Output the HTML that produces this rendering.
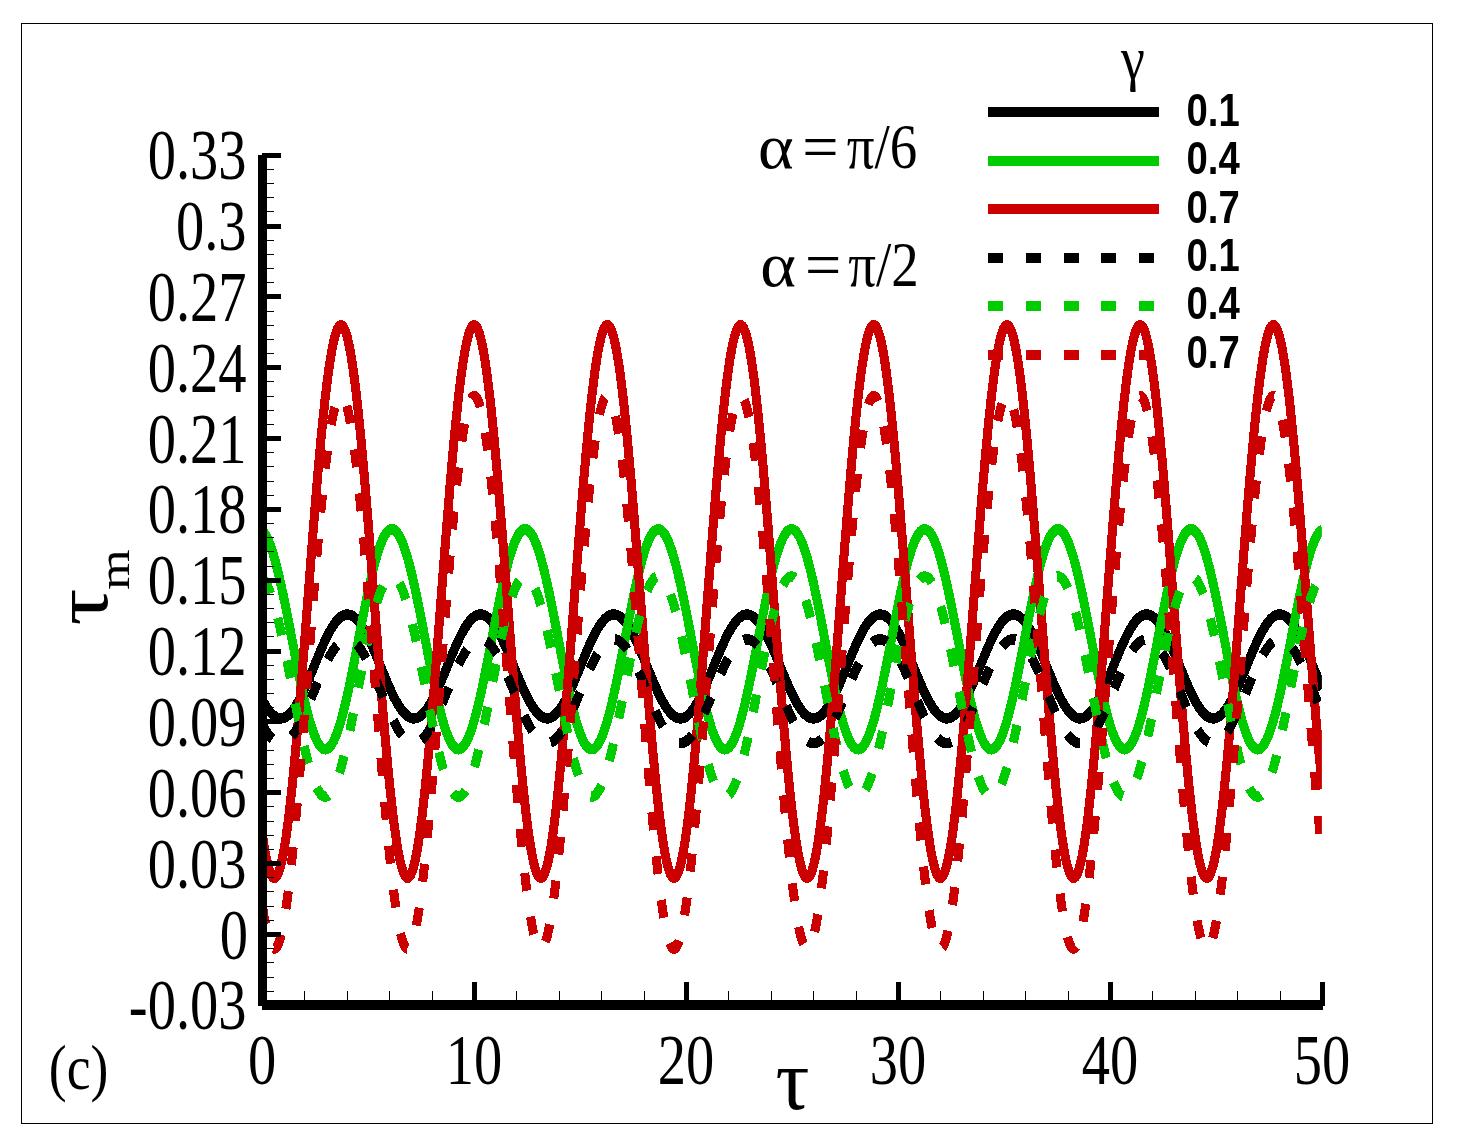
<!DOCTYPE html>
<html><head><meta charset="utf-8"><title>Figure (c)</title>
<style>html,body{margin:0;padding:0;background:#fff}svg{display:block}</style>
</head><body>
<svg width="1458" height="1146" viewBox="0 0 1458 1146">
<rect x="0" y="0" width="1458" height="1146" fill="#fff"/>
<rect x="21.5" y="23.5" width="1411" height="1100" fill="none" stroke="#000" stroke-width="1" shape-rendering="crispEdges"/>
<defs><clipPath id="clip"><rect x="301.72" y="100" width="1217.70" height="905"/></clipPath></defs>
<g transform="scale(0.87,1)" fill="none" stroke-width="10.4" stroke-linejoin="round" shape-rendering="crispEdges" clip-path="url(#clip)">
<path d="M301.72,700.35 L302.94,702.27 L304.16,704.11 L305.38,705.85 L306.60,707.50 L307.82,709.04 L309.03,710.47 L310.25,711.80 L311.47,713.01 L312.69,714.10 L313.91,715.08 L315.13,715.93 L316.34,716.66 L317.56,717.27 L318.78,717.74 L320.00,718.09 L321.22,718.31 L322.44,718.40 L323.66,718.37 L324.87,718.20 L326.09,717.90 L327.31,717.47 L328.53,716.92 L329.75,716.24 L330.97,715.43 L332.18,714.51 L333.40,713.46 L334.62,712.29 L335.84,711.01 L337.06,709.62 L338.28,708.13 L339.49,706.52 L340.71,704.82 L341.93,703.02 L343.15,701.13 L344.37,699.15 L345.59,697.09 L346.80,694.96 L348.02,692.75 L349.24,690.48 L350.46,688.15 L351.68,685.76 L352.90,683.33 L354.11,680.85 L355.33,678.34 L356.55,675.79 L357.77,673.23 L358.99,670.64 L360.21,668.05 L361.43,665.45 L362.64,662.86 L363.86,660.27 L365.08,657.70 L366.30,655.15 L367.52,652.63 L368.74,650.15 L369.95,647.70 L371.17,645.30 L372.39,642.96 L373.61,640.67 L374.83,638.45 L376.05,636.30 L377.26,634.22 L378.48,632.22 L379.70,630.31 L380.92,628.49 L382.14,626.77 L383.36,625.14 L384.57,623.62 L385.79,622.20 L387.01,620.89 L388.23,619.70 L389.45,618.63 L390.67,617.67 L391.89,616.84 L393.10,616.13 L394.32,615.55 L395.54,615.09 L396.76,614.76 L397.98,614.56 L399.20,614.49 L400.41,614.56 L401.63,614.75 L402.85,615.07 L404.07,615.51 L405.29,616.09 L406.51,616.79 L407.72,617.62 L408.94,618.56 L410.16,619.63 L411.38,620.81 L412.60,622.11 L413.82,623.52 L415.03,625.04 L416.25,626.66 L417.47,628.38 L418.69,630.19 L419.91,632.10 L421.13,634.09 L422.34,636.16 L423.56,638.31 L424.78,640.53 L426.00,642.81 L427.22,645.15 L428.44,647.55 L429.66,649.99 L430.87,652.47 L432.09,654.99 L433.31,657.54 L434.53,660.11 L435.75,662.69 L436.97,665.29 L438.18,667.89 L439.40,670.48 L440.62,673.06 L441.84,675.63 L443.06,678.17 L444.28,680.69 L445.49,683.17 L446.71,685.61 L447.93,688.00 L449.15,690.33 L450.37,692.61 L451.59,694.82 L452.80,696.96 L454.02,699.02 L455.24,701.01 L456.46,702.90 L457.68,704.71 L458.90,706.42 L460.11,708.03 L461.33,709.53 L462.55,710.93 L463.77,712.22 L464.99,713.39 L466.21,714.44 L467.43,715.38 L468.64,716.19 L469.86,716.88 L471.08,717.44 L472.30,717.88 L473.52,718.18 L474.74,718.36 L475.95,718.41 L477.17,718.32 L478.39,718.11 L479.61,717.77 L480.83,717.30 L482.05,716.70 L483.26,715.98 L484.48,715.13 L485.70,714.17 L486.92,713.08 L488.14,711.88 L489.36,710.56 L490.57,709.13 L491.79,707.60 L493.01,705.96 L494.23,704.22 L495.45,702.39 L496.67,700.47 L497.89,698.47 L499.10,696.38 L500.32,694.22 L501.54,692.00 L502.76,689.70 L503.98,687.35 L505.20,684.95 L506.41,682.50 L507.63,680.01 L508.85,677.48 L510.07,674.93 L511.29,672.36 L512.51,669.77 L513.72,667.18 L514.94,664.58 L516.16,661.99 L517.38,659.41 L518.60,656.84 L519.82,654.30 L521.03,651.79 L522.25,649.32 L523.47,646.89 L524.69,644.51 L525.91,642.18 L527.13,639.92 L528.34,637.72 L529.56,635.59 L530.78,633.54 L532.00,631.57 L533.22,629.69 L534.44,627.90 L535.66,626.21 L536.87,624.62 L538.09,623.13 L539.31,621.75 L540.53,620.48 L541.75,619.33 L542.97,618.29 L544.18,617.38 L545.40,616.59 L546.62,615.92 L547.84,615.38 L549.06,614.97 L550.28,614.68 L551.49,614.53 L552.71,614.50 L553.93,614.60 L555.15,614.84 L556.37,615.20 L557.59,615.69 L558.80,616.31 L560.02,617.05 L561.24,617.92 L562.46,618.91 L563.68,620.02 L564.90,621.24 L566.11,622.58 L567.33,624.02 L568.55,625.57 L569.77,627.23 L570.99,628.98 L572.21,630.82 L573.43,632.76 L574.64,634.78 L575.86,636.88 L577.08,639.05 L578.30,641.29 L579.52,643.59 L580.74,645.95 L581.95,648.36 L583.17,650.82 L584.39,653.32 L585.61,655.84 L586.83,658.40 L588.05,660.98 L589.26,663.56 L590.48,666.16 L591.70,668.76 L592.92,671.35 L594.14,673.93 L595.36,676.49 L596.57,679.02 L597.79,681.53 L599.01,683.99 L600.23,686.42 L601.45,688.79 L602.67,691.11 L603.89,693.36 L605.10,695.55 L606.32,697.66 L607.54,699.70 L608.76,701.65 L609.98,703.52 L611.20,705.29 L612.41,706.97 L613.63,708.54 L614.85,710.01 L616.07,711.37 L617.29,712.62 L618.51,713.76 L619.72,714.77 L620.94,715.66 L622.16,716.44 L623.38,717.08 L624.60,717.60 L625.82,717.99 L627.03,718.26 L628.25,718.39 L629.47,718.39 L630.69,718.27 L631.91,718.01 L633.13,717.63 L634.34,717.11 L635.56,716.47 L636.78,715.71 L638.00,714.82 L639.22,713.81 L640.44,712.69 L641.66,711.45 L642.87,710.09 L644.09,708.63 L645.31,707.06 L646.53,705.39 L647.75,703.62 L648.97,701.76 L650.18,699.81 L651.40,697.78 L652.62,695.67 L653.84,693.48 L655.06,691.23 L656.28,688.92 L657.49,686.55 L658.71,684.13 L659.93,681.66 L661.15,679.16 L662.37,676.63 L663.59,674.07 L664.80,671.49 L666.02,668.90 L667.24,666.30 L668.46,663.71 L669.68,661.12 L670.90,658.54 L672.11,655.98 L673.33,653.45 L674.55,650.96 L675.77,648.50 L676.99,646.08 L678.21,643.72 L679.43,641.41 L680.64,639.17 L681.86,636.99 L683.08,634.89 L684.30,632.87 L685.52,630.93 L686.74,629.08 L687.95,627.32 L689.17,625.66 L690.39,624.10 L691.61,622.65 L692.83,621.31 L694.05,620.08 L695.26,618.97 L696.48,617.97 L697.70,617.10 L698.92,616.35 L700.14,615.72 L701.36,615.23 L702.57,614.86 L703.79,614.61 L705.01,614.50 L706.23,614.52 L707.45,614.67 L708.67,614.95 L709.89,615.35 L711.10,615.89 L712.32,616.55 L713.54,617.33 L714.76,618.24 L715.98,619.27 L717.20,620.41 L718.41,621.68 L719.63,623.05 L720.85,624.53 L722.07,626.12 L723.29,627.80 L724.51,629.59 L725.72,631.46 L726.94,633.43 L728.16,635.47 L729.38,637.60 L730.60,639.79 L731.82,642.06 L733.03,644.38 L734.25,646.76 L735.47,649.18 L736.69,651.66 L737.91,654.16 L739.13,656.70 L740.34,659.26 L741.56,661.85 L742.78,664.44 L744.00,667.03 L745.22,669.63 L746.44,672.22 L747.66,674.79 L748.87,677.34 L750.09,679.87 L751.31,682.36 L752.53,684.81 L753.75,687.22 L754.97,689.57 L756.18,691.87 L757.40,694.10 L758.62,696.27 L759.84,698.36 L761.06,700.37 L762.28,702.29 L763.49,704.13 L764.71,705.87 L765.93,707.51 L767.15,709.05 L768.37,710.48 L769.59,711.81 L770.80,713.02 L772.02,714.11 L773.24,715.09 L774.46,715.94 L775.68,716.67 L776.90,717.27 L778.11,717.75 L779.33,718.10 L780.55,718.32 L781.77,718.41 L782.99,718.37 L784.21,718.20 L785.43,717.90 L786.64,717.47 L787.86,716.91 L789.08,716.23 L790.30,715.43 L791.52,714.50 L792.74,713.45 L793.95,712.28 L795.17,711.00 L796.39,709.61 L797.61,708.11 L798.83,706.51 L800.05,704.80 L801.26,703.00 L802.48,701.11 L803.70,699.14 L804.92,697.08 L806.14,694.94 L807.36,692.73 L808.57,690.46 L809.79,688.13 L811.01,685.74 L812.23,683.30 L813.45,680.83 L814.67,678.31 L815.89,675.77 L817.10,673.20 L818.32,670.62 L819.54,668.03 L820.76,665.43 L821.98,662.84 L823.20,660.25 L824.41,657.68 L825.63,655.13 L826.85,652.61 L828.07,650.12 L829.29,647.68 L830.51,645.28 L831.72,642.94 L832.94,640.65 L834.16,638.43 L835.38,636.28 L836.60,634.20 L837.82,632.21 L839.03,630.30 L840.25,628.48 L841.47,626.75 L842.69,625.13 L843.91,623.60 L845.13,622.19 L846.34,620.88 L847.56,619.69 L848.78,618.62 L850.00,617.66 L851.22,616.83 L852.44,616.12 L853.66,615.54 L854.87,615.09 L856.09,614.76 L857.31,614.56 L858.53,614.49 L859.75,614.56 L860.97,614.75 L862.18,615.07 L863.40,615.52 L864.62,616.09 L865.84,616.80 L867.06,617.62 L868.28,618.57 L869.49,619.64 L870.71,620.83 L871.93,622.13 L873.15,623.54 L874.37,625.05 L875.59,626.67 L876.80,628.39 L878.02,630.21 L879.24,632.12 L880.46,634.11 L881.68,636.18 L882.90,638.33 L884.11,640.55 L885.33,642.83 L886.55,645.17 L887.77,647.57 L888.99,650.01 L890.21,652.49 L891.43,655.01 L892.64,657.56 L893.86,660.13 L895.08,662.72 L896.30,665.31 L897.52,667.91 L898.74,670.50 L899.95,673.09 L901.17,675.65 L902.39,678.20 L903.61,680.71 L904.83,683.19 L906.05,685.63 L907.26,688.02 L908.48,690.35 L909.70,692.63 L910.92,694.84 L912.14,696.98 L913.36,699.04 L914.57,701.02 L915.79,702.92 L917.01,704.72 L918.23,706.43 L919.45,708.04 L920.67,709.54 L921.89,710.94 L923.10,712.23 L924.32,713.40 L925.54,714.45 L926.76,715.39 L927.98,716.20 L929.20,716.88 L930.41,717.45 L931.63,717.88 L932.85,718.18 L934.07,718.36 L935.29,718.41 L936.51,718.32 L937.72,718.11 L938.94,717.77 L940.16,717.30 L941.38,716.70 L942.60,715.97 L943.82,715.13 L945.03,714.16 L946.25,713.07 L947.47,711.87 L948.69,710.55 L949.91,709.12 L951.13,707.58 L952.34,705.95 L953.56,704.21 L954.78,702.38 L956.00,700.46 L957.22,698.45 L958.44,696.37 L959.66,694.21 L960.87,691.98 L962.09,689.68 L963.31,687.33 L964.53,684.93 L965.75,682.48 L966.97,679.99 L968.18,677.46 L969.40,674.91 L970.62,672.34 L971.84,669.75 L973.06,667.15 L974.28,664.56 L975.49,661.96 L976.71,659.38 L977.93,656.82 L979.15,654.28 L980.37,651.77 L981.59,649.30 L982.80,646.87 L984.02,644.49 L985.24,642.16 L986.46,639.90 L987.68,637.70 L988.90,635.57 L990.11,633.52 L991.33,631.55 L992.55,629.67 L993.77,627.88 L994.99,626.19 L996.21,624.60 L997.43,623.11 L998.64,621.74 L999.86,620.47 L1001.08,619.32 L1002.30,618.28 L1003.52,617.37 L1004.74,616.58 L1005.95,615.91 L1007.17,615.37 L1008.39,614.96 L1009.61,614.68 L1010.83,614.52 L1012.05,614.50 L1013.26,614.61 L1014.48,614.84 L1015.70,615.21 L1016.92,615.70 L1018.14,616.32 L1019.36,617.06 L1020.57,617.93 L1021.79,618.92 L1023.01,620.03 L1024.23,621.25 L1025.45,622.59 L1026.67,624.03 L1027.89,625.59 L1029.10,627.24 L1030.32,628.99 L1031.54,630.84 L1032.76,632.78 L1033.98,634.80 L1035.20,636.89 L1036.41,639.07 L1037.63,641.31 L1038.85,643.61 L1040.07,645.97 L1041.29,648.38 L1042.51,650.84 L1043.72,653.34 L1044.94,655.87 L1046.16,658.42 L1047.38,661.00 L1048.60,663.59 L1049.82,666.18 L1051.03,668.78 L1052.25,671.37 L1053.47,673.95 L1054.69,676.51 L1055.91,679.05 L1057.13,681.55 L1058.34,684.02 L1059.56,686.44 L1060.78,688.81 L1062.00,691.13 L1063.22,693.38 L1064.44,695.57 L1065.66,697.68 L1066.87,699.72 L1068.09,701.67 L1069.31,703.54 L1070.53,705.31 L1071.75,706.98 L1072.97,708.56 L1074.18,710.03 L1075.40,711.39 L1076.62,712.63 L1077.84,713.77 L1079.06,714.78 L1080.28,715.67 L1081.49,716.44 L1082.71,717.09 L1083.93,717.61 L1085.15,718.00 L1086.37,718.26 L1087.59,718.39 L1088.80,718.39 L1090.02,718.27 L1091.24,718.01 L1092.46,717.62 L1093.68,717.11 L1094.90,716.47 L1096.11,715.70 L1097.33,714.81 L1098.55,713.81 L1099.77,712.68 L1100.99,711.43 L1102.21,710.08 L1103.43,708.61 L1104.64,707.04 L1105.86,705.37 L1107.08,703.60 L1108.30,701.74 L1109.52,699.79 L1110.74,697.76 L1111.95,695.65 L1113.17,693.46 L1114.39,691.21 L1115.61,688.90 L1116.83,686.53 L1118.05,684.11 L1119.26,681.64 L1120.48,679.14 L1121.70,676.61 L1122.92,674.05 L1124.14,671.47 L1125.36,668.88 L1126.57,666.28 L1127.79,663.68 L1129.01,661.09 L1130.23,658.52 L1131.45,655.96 L1132.67,653.43 L1133.89,650.93 L1135.10,648.48 L1136.32,646.06 L1137.54,643.70 L1138.76,641.39 L1139.98,639.15 L1141.20,636.97 L1142.41,634.87 L1143.63,632.85 L1144.85,630.91 L1146.07,629.06 L1147.29,627.30 L1148.51,625.65 L1149.72,624.09 L1150.94,622.64 L1152.16,621.30 L1153.38,620.07 L1154.60,618.96 L1155.82,617.96 L1157.03,617.09 L1158.25,616.34 L1159.47,615.72 L1160.69,615.22 L1161.91,614.85 L1163.13,614.61 L1164.34,614.50 L1165.56,614.52 L1166.78,614.67 L1168.00,614.95 L1169.22,615.36 L1170.44,615.89 L1171.66,616.55 L1172.87,617.34 L1174.09,618.25 L1175.31,619.28 L1176.53,620.43 L1177.75,621.69 L1178.97,623.06 L1180.18,624.54 L1181.40,626.13 L1182.62,627.82 L1183.84,629.60 L1185.06,631.48 L1186.28,633.45 L1187.49,635.49 L1188.71,637.62 L1189.93,639.81 L1191.15,642.08 L1192.37,644.40 L1193.59,646.78 L1194.80,649.21 L1196.02,651.68 L1197.24,654.19 L1198.46,656.72 L1199.68,659.29 L1200.90,661.87 L1202.11,664.46 L1203.33,667.06 L1204.55,669.65 L1205.77,672.24 L1206.99,674.81 L1208.21,677.37 L1209.43,679.89 L1210.64,682.38 L1211.86,684.84 L1213.08,687.24 L1214.30,689.60 L1215.52,691.89 L1216.74,694.12 L1217.95,696.29 L1219.17,698.38 L1220.39,700.38 L1221.61,702.31 L1222.83,704.14 L1224.05,705.88 L1225.26,707.52 L1226.48,709.06 L1227.70,710.50 L1228.92,711.82 L1230.14,713.03 L1231.36,714.12 L1232.57,715.09 L1233.79,715.94 L1235.01,716.67 L1236.23,717.28 L1237.45,717.75 L1238.67,718.10 L1239.89,718.32 L1241.10,718.41 L1242.32,718.36 L1243.54,718.19 L1244.76,717.89 L1245.98,717.46 L1247.20,716.91 L1248.41,716.22 L1249.63,715.42 L1250.85,714.49 L1252.07,713.44 L1253.29,712.27 L1254.51,710.99 L1255.72,709.60 L1256.94,708.10 L1258.16,706.49 L1259.38,704.79 L1260.60,702.99 L1261.82,701.10 L1263.03,699.12 L1264.25,697.06 L1265.47,694.92 L1266.69,692.71 L1267.91,690.44 L1269.13,688.11 L1270.34,685.72 L1271.56,683.28 L1272.78,680.80 L1274.00,678.29 L1275.22,675.75 L1276.44,673.18 L1277.66,670.60 L1278.87,668.00 L1280.09,665.41 L1281.31,662.81 L1282.53,660.23 L1283.75,657.66 L1284.97,655.11 L1286.18,652.59 L1287.40,650.10 L1288.62,647.66 L1289.84,645.26 L1291.06,642.92 L1292.28,640.63 L1293.49,638.41 L1294.71,636.26 L1295.93,634.18 L1297.15,632.19 L1298.37,630.28 L1299.59,628.46 L1300.80,626.74 L1302.02,625.11 L1303.24,623.59 L1304.46,622.18 L1305.68,620.87 L1306.90,619.68 L1308.11,618.61 L1309.33,617.66 L1310.55,616.83 L1311.77,616.12 L1312.99,615.54 L1314.21,615.08 L1315.43,614.76 L1316.64,614.56 L1317.86,614.49 L1319.08,614.56 L1320.30,614.75 L1321.52,615.07 L1322.74,615.52 L1323.95,616.10 L1325.17,616.80 L1326.39,617.63 L1327.61,618.58 L1328.83,619.65 L1330.05,620.84 L1331.26,622.14 L1332.48,623.55 L1333.70,625.07 L1334.92,626.69 L1336.14,628.41 L1337.36,630.23 L1338.57,632.13 L1339.79,634.13 L1341.01,636.20 L1342.23,638.35 L1343.45,640.57 L1344.67,642.85 L1345.89,645.19 L1347.10,647.59 L1348.32,650.03 L1349.54,652.52 L1350.76,655.04 L1351.98,657.58 L1353.20,660.15 L1354.41,662.74 L1355.63,665.33 L1356.85,667.93 L1358.07,670.53 L1359.29,673.11 L1360.51,675.68 L1361.72,678.22 L1362.94,680.73 L1364.16,683.21 L1365.38,685.65 L1366.60,688.04 L1367.82,690.37 L1369.03,692.65 L1370.25,694.86 L1371.47,697.00 L1372.69,699.06 L1373.91,701.04 L1375.13,702.94 L1376.34,704.74 L1377.56,706.45 L1378.78,708.05 L1380.00,709.56 L1381.22,710.95 L1382.44,712.24 L1383.66,713.41 L1384.87,714.46 L1386.09,715.39 L1387.31,716.20 L1388.53,716.89 L1389.75,717.45 L1390.97,717.88 L1392.18,718.19 L1393.40,718.36 L1394.62,718.41 L1395.84,718.32 L1397.06,718.11 L1398.28,717.76 L1399.49,717.29 L1400.71,716.69 L1401.93,715.97 L1403.15,715.12 L1404.37,714.15 L1405.59,713.06 L1406.80,711.85 L1408.02,710.53 L1409.24,709.11 L1410.46,707.57 L1411.68,705.93 L1412.90,704.19 L1414.11,702.36 L1415.33,700.44 L1416.55,698.43 L1417.77,696.35 L1418.99,694.19 L1420.21,691.96 L1421.43,689.66 L1422.64,687.31 L1423.86,684.90 L1425.08,682.45 L1426.30,679.96 L1427.52,677.44 L1428.74,674.89 L1429.95,672.31 L1431.17,669.73 L1432.39,667.13 L1433.61,664.53 L1434.83,661.94 L1436.05,659.36 L1437.26,656.80 L1438.48,654.26 L1439.70,651.75 L1440.92,649.28 L1442.14,646.85 L1443.36,644.47 L1444.57,642.14 L1445.79,639.88 L1447.01,637.68 L1448.23,635.55 L1449.45,633.50 L1450.67,631.54 L1451.89,629.66 L1453.10,627.87 L1454.32,626.18 L1455.54,624.59 L1456.76,623.10 L1457.98,621.72 L1459.20,620.46 L1460.41,619.31 L1461.63,618.28 L1462.85,617.36 L1464.07,616.57 L1465.29,615.91 L1466.51,615.37 L1467.72,614.96 L1468.94,614.68 L1470.16,614.52 L1471.38,614.50 L1472.60,614.61 L1473.82,614.84 L1475.03,615.21 L1476.25,615.70 L1477.47,616.32 L1478.69,617.07 L1479.91,617.94 L1481.13,618.93 L1482.34,620.04 L1483.56,621.26 L1484.78,622.60 L1486.00,624.05 L1487.22,625.60 L1488.44,627.26 L1489.66,629.01 L1490.87,630.86 L1492.09,632.79 L1493.31,634.81 L1494.53,636.91 L1495.75,639.09 L1496.97,641.33 L1498.18,643.63 L1499.40,645.99 L1500.62,648.41 L1501.84,650.86 L1503.06,653.36 L1504.28,655.89 L1505.49,658.45 L1506.71,661.02 L1507.93,663.61 L1509.15,666.21 L1510.37,668.80 L1511.59,671.40 L1512.80,673.97 L1514.02,676.53 L1515.24,679.07 L1516.46,681.57 L1517.68,684.04 L1518.90,686.46 L1520.11,688.83" stroke="#000000"/>
<path d="M301.72,531.02 L302.94,532.14 L304.16,533.52 L305.38,535.18 L306.60,537.09 L307.82,539.26 L309.03,541.67 L310.25,544.34 L311.47,547.24 L312.69,550.37 L313.91,553.72 L315.13,557.28 L316.34,561.05 L317.56,565.02 L318.78,569.17 L320.00,573.50 L321.22,577.99 L322.44,582.63 L323.66,587.42 L324.87,592.34 L326.09,597.37 L327.31,602.51 L328.53,607.74 L329.75,613.05 L330.97,618.42 L332.18,623.85 L333.40,629.31 L334.62,634.80 L335.84,640.30 L337.06,645.80 L338.28,651.29 L339.49,656.74 L340.71,662.15 L341.93,667.50 L343.15,672.78 L344.37,677.98 L345.59,683.08 L346.80,688.07 L348.02,692.94 L349.24,697.68 L350.46,702.27 L351.68,706.70 L352.90,710.96 L354.11,715.05 L355.33,718.94 L356.55,722.64 L357.77,726.13 L358.99,729.40 L360.21,732.44 L361.43,735.25 L362.64,737.83 L363.86,740.15 L365.08,742.23 L366.30,744.05 L367.52,745.60 L368.74,746.89 L369.95,747.91 L371.17,748.66 L372.39,749.14 L373.61,749.34 L374.83,749.26 L376.05,748.92 L377.26,748.29 L378.48,747.40 L379.70,746.23 L380.92,744.80 L382.14,743.10 L383.36,741.15 L384.57,738.94 L385.79,736.48 L387.01,733.78 L388.23,730.84 L389.45,727.67 L390.67,724.28 L391.89,720.68 L393.10,716.88 L394.32,712.88 L395.54,708.70 L396.76,704.34 L397.98,699.82 L399.20,695.15 L400.41,690.35 L401.63,685.41 L402.85,680.36 L404.07,675.20 L405.29,669.96 L406.51,664.64 L407.72,659.25 L408.94,653.82 L410.16,648.35 L411.38,642.86 L412.60,637.35 L413.82,631.86 L415.03,626.38 L416.25,620.93 L417.47,615.53 L418.69,610.19 L419.91,604.92 L421.13,599.74 L422.34,594.66 L423.56,589.68 L424.78,584.84 L426.00,580.12 L427.22,575.56 L428.44,571.16 L429.66,566.92 L430.87,562.87 L432.09,559.01 L433.31,555.34 L434.53,551.89 L435.75,548.66 L436.97,545.65 L438.18,542.88 L439.40,540.35 L440.62,538.06 L441.84,536.03 L443.06,534.26 L444.28,532.75 L445.49,531.50 L446.71,530.53 L447.93,529.82 L449.15,529.39 L450.37,529.24 L451.59,529.36 L452.80,529.75 L454.02,530.42 L455.24,531.36 L456.46,532.57 L457.68,534.05 L458.90,535.79 L460.11,537.79 L461.33,540.04 L462.55,542.54 L463.77,545.29 L464.99,548.26 L466.21,551.47 L467.43,554.89 L468.64,558.53 L469.86,562.37 L471.08,566.40 L472.30,570.61 L473.52,574.99 L474.74,579.53 L475.95,584.23 L477.17,589.06 L478.39,594.02 L479.61,599.09 L480.83,604.26 L482.05,609.51 L483.26,614.85 L484.48,620.24 L485.70,625.68 L486.92,631.16 L488.14,636.65 L489.36,642.15 L490.57,647.65 L491.79,653.12 L493.01,658.56 L494.23,663.95 L495.45,669.28 L496.67,674.54 L497.89,679.71 L499.10,684.77 L500.32,689.72 L501.54,694.55 L502.76,699.24 L503.98,703.77 L505.20,708.15 L506.41,712.36 L507.63,716.38 L508.85,720.21 L510.07,723.83 L511.29,727.25 L512.51,730.45 L513.72,733.41 L514.94,736.15 L516.16,738.64 L517.38,740.88 L518.60,742.87 L519.82,744.60 L521.03,746.06 L522.25,747.26 L523.47,748.19 L524.69,748.85 L525.91,749.24 L527.13,749.34 L528.34,749.18 L529.56,748.74 L530.78,748.02 L532.00,747.04 L533.22,745.78 L534.44,744.26 L535.66,742.47 L536.87,740.43 L538.09,738.14 L539.31,735.60 L540.53,732.81 L541.75,729.80 L542.97,726.55 L544.18,723.09 L545.40,719.42 L546.62,715.55 L547.84,711.49 L549.06,707.25 L550.28,702.84 L551.49,698.27 L552.71,693.55 L553.93,688.70 L555.15,683.72 L556.37,678.63 L557.59,673.45 L558.80,668.18 L560.02,662.83 L561.24,657.43 L562.46,651.98 L563.68,646.50 L564.90,641.01 L566.11,635.50 L567.33,630.01 L568.55,624.54 L569.77,619.11 L570.99,613.73 L572.21,608.41 L573.43,603.17 L574.64,598.02 L575.86,592.97 L577.08,588.04 L578.30,583.24 L579.52,578.57 L580.74,574.06 L581.95,569.71 L583.17,565.54 L584.39,561.55 L585.61,557.75 L586.83,554.16 L588.05,550.78 L589.26,547.62 L590.48,544.69 L591.70,542.00 L592.92,539.55 L594.14,537.35 L595.36,535.41 L596.57,533.72 L597.79,532.30 L599.01,531.14 L600.23,530.26 L601.45,529.65 L602.67,529.31 L603.89,529.25 L605.10,529.46 L606.32,529.95 L607.54,530.71 L608.76,531.74 L609.98,533.04 L611.20,534.61 L612.41,536.43 L613.63,538.52 L614.85,540.86 L616.07,543.44 L617.29,546.26 L618.51,549.32 L619.72,552.60 L620.94,556.09 L622.16,559.80 L623.38,563.70 L624.60,567.79 L625.82,572.06 L627.03,576.50 L628.25,581.10 L629.47,585.84 L630.69,590.71 L631.91,595.71 L633.13,600.81 L634.34,606.02 L635.56,611.30 L636.78,616.65 L638.00,622.07 L639.22,627.52 L640.44,633.00 L641.66,638.50 L642.87,644.00 L644.09,649.49 L645.31,654.96 L646.53,660.38 L647.75,665.75 L648.97,671.06 L650.18,676.29 L651.40,681.42 L652.62,686.45 L653.84,691.36 L655.06,696.14 L656.28,700.78 L657.49,705.27 L658.71,709.59 L659.93,713.73 L661.15,717.69 L662.37,721.45 L663.59,725.01 L664.80,728.35 L666.02,731.47 L667.24,734.36 L668.46,737.01 L669.68,739.42 L670.90,741.58 L672.11,743.48 L673.33,745.12 L674.55,746.50 L675.77,747.61 L676.99,748.45 L678.21,749.01 L679.43,749.30 L680.64,749.32 L681.86,749.06 L683.08,748.53 L684.30,747.72 L685.52,746.64 L686.74,745.30 L687.95,743.69 L689.17,741.82 L690.39,739.69 L691.61,737.31 L692.83,734.69 L694.05,731.82 L695.26,728.73 L696.48,725.41 L697.70,721.88 L698.92,718.14 L700.14,714.21 L701.36,710.09 L702.57,705.79 L703.79,701.32 L705.01,696.70 L706.23,691.93 L707.45,687.04 L708.67,682.02 L709.89,676.90 L711.10,671.68 L712.32,666.39 L713.54,661.02 L714.76,655.60 L715.98,650.14 L717.20,644.66 L718.41,639.16 L719.63,633.65 L720.85,628.17 L722.07,622.71 L723.29,617.29 L724.51,611.93 L725.72,606.64 L726.94,601.43 L728.16,596.31 L729.38,591.30 L730.60,586.41 L731.82,581.65 L733.03,577.04 L734.25,572.58 L735.47,568.29 L736.69,564.17 L737.91,560.25 L739.13,556.52 L740.34,553.00 L741.56,549.69 L742.78,546.61 L744.00,543.76 L745.22,541.15 L746.44,538.78 L747.66,536.67 L748.87,534.81 L750.09,533.21 L751.31,531.88 L752.53,530.82 L753.75,530.02 L754.97,529.50 L756.18,529.26 L757.40,529.29 L758.62,529.59 L759.84,530.17 L761.06,531.02 L762.28,532.15 L763.49,533.54 L764.71,535.19 L765.93,537.11 L767.15,539.28 L768.37,541.70 L769.59,544.36 L770.80,547.26 L772.02,550.39 L773.24,553.75 L774.46,557.32 L775.68,561.09 L776.90,565.06 L778.11,569.21 L779.33,573.54 L780.55,578.03 L781.77,582.68 L782.99,587.46 L784.21,592.38 L785.43,597.41 L786.64,602.55 L787.86,607.78 L789.08,613.09 L790.30,618.47 L791.52,623.90 L792.74,629.36 L793.95,634.85 L795.17,640.35 L796.39,645.85 L797.61,651.33 L798.83,656.79 L800.05,662.20 L801.26,667.55 L802.48,672.83 L803.70,678.02 L804.92,683.12 L806.14,688.12 L807.36,692.98 L808.57,697.72 L809.79,702.31 L811.01,706.74 L812.23,711.00 L813.45,715.08 L814.67,718.98 L815.89,722.67 L817.10,726.16 L818.32,729.42 L819.54,732.47 L820.76,735.28 L821.98,737.85 L823.20,740.17 L824.41,742.25 L825.63,744.06 L826.85,745.61 L828.07,746.90 L829.29,747.92 L830.51,748.67 L831.72,749.14 L832.94,749.34 L834.16,749.26 L835.38,748.91 L836.60,748.29 L837.82,747.39 L839.03,746.22 L840.25,744.79 L841.47,743.09 L842.69,741.13 L843.91,738.92 L845.13,736.46 L846.34,733.75 L847.56,730.81 L848.78,727.64 L850.00,724.25 L851.22,720.65 L852.44,716.84 L853.66,712.84 L854.87,708.66 L856.09,704.30 L857.31,699.78 L858.53,695.11 L859.75,690.30 L860.97,685.36 L862.18,680.31 L863.40,675.16 L864.62,669.91 L865.84,664.59 L867.06,659.21 L868.28,653.77 L869.49,648.30 L870.71,642.81 L871.93,637.30 L873.15,631.81 L874.37,626.33 L875.59,620.88 L876.80,615.48 L878.02,610.14 L879.24,604.88 L880.46,599.69 L881.68,594.61 L882.90,589.64 L884.11,584.79 L885.33,580.08 L886.55,575.52 L887.77,571.12 L888.99,566.89 L890.21,562.83 L891.43,558.97 L892.64,555.31 L893.86,551.86 L895.08,548.63 L896.30,545.63 L897.52,542.86 L898.74,540.33 L899.95,538.04 L901.17,536.01 L902.39,534.24 L903.61,532.73 L904.83,531.49 L906.05,530.52 L907.26,529.82 L908.48,529.39 L909.70,529.24 L910.92,529.36 L912.14,529.76 L913.36,530.43 L914.57,531.37 L915.79,532.59 L917.01,534.06 L918.23,535.81 L919.45,537.81 L920.67,540.06 L921.89,542.57 L923.10,545.31 L924.32,548.29 L925.54,551.50 L926.76,554.92 L927.98,558.56 L929.20,562.40 L930.41,566.43 L931.63,570.65 L932.85,575.03 L934.07,579.58 L935.29,584.27 L936.51,589.10 L937.72,594.06 L938.94,599.13 L940.16,604.30 L941.38,609.56 L942.60,614.89 L943.82,620.29 L945.03,625.73 L946.25,631.21 L947.47,636.70 L948.69,642.20 L949.91,647.70 L951.13,653.17 L952.34,658.61 L953.56,664.00 L954.78,669.33 L956.00,674.59 L957.22,679.75 L958.44,684.82 L959.66,689.77 L960.87,694.59 L962.09,699.28 L963.31,703.81 L964.53,708.19 L965.75,712.39 L966.97,716.41 L968.18,720.24 L969.40,723.87 L970.62,727.28 L971.84,730.47 L973.06,733.44 L974.28,736.17 L975.49,738.66 L976.71,740.90 L977.93,742.89 L979.15,744.61 L980.37,746.08 L981.59,747.27 L982.80,748.20 L984.02,748.86 L985.24,749.24 L986.46,749.34 L987.68,749.17 L988.90,748.73 L990.11,748.01 L991.33,747.03 L992.55,745.77 L993.77,744.24 L994.99,742.46 L996.21,740.41 L997.43,738.12 L998.64,735.57 L999.86,732.79 L1001.08,729.77 L1002.30,726.52 L1003.52,723.06 L1004.74,719.39 L1005.95,715.52 L1007.17,711.46 L1008.39,707.21 L1009.61,702.80 L1010.83,698.23 L1012.05,693.51 L1013.26,688.66 L1014.48,683.68 L1015.70,678.59 L1016.92,673.40 L1018.14,668.13 L1019.36,662.79 L1020.57,657.38 L1021.79,651.93 L1023.01,646.45 L1024.23,640.96 L1025.45,635.45 L1026.67,629.96 L1027.89,624.49 L1029.10,619.06 L1030.32,613.68 L1031.54,608.36 L1032.76,603.12 L1033.98,597.97 L1035.20,592.93 L1036.41,588.00 L1037.63,583.19 L1038.85,578.53 L1040.07,574.02 L1041.29,569.67 L1042.51,565.50 L1043.72,561.51 L1044.94,557.72 L1046.16,554.13 L1047.38,550.75 L1048.60,547.59 L1049.82,544.67 L1051.03,541.98 L1052.25,539.53 L1053.47,537.33 L1054.69,535.39 L1055.91,533.71 L1057.13,532.29 L1058.34,531.13 L1059.56,530.25 L1060.78,529.64 L1062.00,529.31 L1063.22,529.25 L1064.44,529.46 L1065.66,529.95 L1066.87,530.72 L1068.09,531.75 L1069.31,533.05 L1070.53,534.62 L1071.75,536.45 L1072.97,538.54 L1074.18,540.88 L1075.40,543.46 L1076.62,546.29 L1077.84,549.34 L1079.06,552.63 L1080.28,556.12 L1081.49,559.83 L1082.71,563.74 L1083.93,567.83 L1085.15,572.10 L1086.37,576.54 L1087.59,581.14 L1088.80,585.88 L1090.02,590.76 L1091.24,595.75 L1092.46,600.86 L1093.68,606.06 L1094.90,611.35 L1096.11,616.70 L1097.33,622.11 L1098.55,627.57 L1099.77,633.05 L1100.99,638.55 L1102.21,644.05 L1103.43,649.54 L1104.64,655.01 L1105.86,660.43 L1107.08,665.80 L1108.30,671.11 L1109.52,676.33 L1110.74,681.47 L1111.95,686.49 L1113.17,691.40 L1114.39,696.18 L1115.61,700.82 L1116.83,705.30 L1118.05,709.62 L1119.26,713.77 L1120.48,717.72 L1121.70,721.48 L1122.92,725.04 L1124.14,728.38 L1125.36,731.50 L1126.57,734.38 L1127.79,737.03 L1129.01,739.44 L1130.23,741.60 L1131.45,743.50 L1132.67,745.13 L1133.89,746.51 L1135.10,747.62 L1136.32,748.45 L1137.54,749.01 L1138.76,749.30 L1139.98,749.32 L1141.20,749.06 L1142.41,748.52 L1143.63,747.71 L1144.85,746.63 L1146.07,745.29 L1147.29,743.67 L1148.51,741.80 L1149.72,739.67 L1150.94,737.29 L1152.16,734.66 L1153.38,731.80 L1154.60,728.70 L1155.82,725.38 L1157.03,721.85 L1158.25,718.11 L1159.47,714.17 L1160.69,710.05 L1161.91,705.75 L1163.13,701.28 L1164.34,696.66 L1165.56,691.89 L1166.78,686.99 L1168.00,681.98 L1169.22,676.85 L1170.44,671.64 L1171.66,666.34 L1172.87,660.97 L1174.09,655.55 L1175.31,650.09 L1176.53,644.61 L1177.75,639.11 L1178.97,633.61 L1180.18,628.12 L1181.40,622.66 L1182.62,617.25 L1183.84,611.88 L1185.06,606.59 L1186.28,601.38 L1187.49,596.26 L1188.71,591.26 L1189.93,586.37 L1191.15,581.61 L1192.37,577.00 L1193.59,572.54 L1194.80,568.25 L1196.02,564.14 L1197.24,560.21 L1198.46,556.49 L1199.68,552.97 L1200.90,549.66 L1202.11,546.58 L1203.33,543.74 L1204.55,541.13 L1205.77,538.76 L1206.99,536.65 L1208.21,534.79 L1209.43,533.20 L1210.64,531.87 L1211.86,530.81 L1213.08,530.02 L1214.30,529.50 L1215.52,529.26 L1216.74,529.29 L1217.95,529.60 L1219.17,530.18 L1220.39,531.03 L1221.61,532.16 L1222.83,533.55 L1224.05,535.21 L1225.26,537.13 L1226.48,539.30 L1227.70,541.72 L1228.92,544.39 L1230.14,547.29 L1231.36,550.42 L1232.57,553.78 L1233.79,557.35 L1235.01,561.12 L1236.23,565.09 L1237.45,569.25 L1238.67,573.58 L1239.89,578.07 L1241.10,582.72 L1242.32,587.51 L1243.54,592.42 L1244.76,597.46 L1245.98,602.60 L1247.20,607.83 L1248.41,613.14 L1249.63,618.52 L1250.85,623.94 L1252.07,629.41 L1253.29,634.90 L1254.51,640.40 L1255.72,645.90 L1256.94,651.38 L1258.16,656.84 L1259.38,662.24 L1260.60,667.59 L1261.82,672.87 L1263.03,678.07 L1264.25,683.17 L1265.47,688.16 L1266.69,693.03 L1267.91,697.76 L1269.13,702.35 L1270.34,706.78 L1271.56,711.04 L1272.78,715.12 L1274.00,719.01 L1275.22,722.70 L1276.44,726.19 L1277.66,729.45 L1278.87,732.49 L1280.09,735.30 L1281.31,737.87 L1282.53,740.19 L1283.75,742.26 L1284.97,744.08 L1286.18,745.63 L1287.40,746.91 L1288.62,747.93 L1289.84,748.67 L1291.06,749.14 L1292.28,749.34 L1293.49,749.26 L1294.71,748.91 L1295.93,748.28 L1297.15,747.38 L1298.37,746.21 L1299.59,744.77 L1300.80,743.07 L1302.02,741.11 L1303.24,738.90 L1304.46,736.43 L1305.68,733.73 L1306.90,730.78 L1308.11,727.61 L1309.33,724.22 L1310.55,720.62 L1311.77,716.81 L1312.99,712.81 L1314.21,708.62 L1315.43,704.26 L1316.64,699.74 L1317.86,695.07 L1319.08,690.26 L1320.30,685.32 L1321.52,680.27 L1322.74,675.11 L1323.95,669.86 L1325.17,664.54 L1326.39,659.16 L1327.61,653.72 L1328.83,648.25 L1330.05,642.76 L1331.26,637.26 L1332.48,631.76 L1333.70,626.28 L1334.92,620.84 L1336.14,615.44 L1337.36,610.10 L1338.57,604.83 L1339.79,599.65 L1341.01,594.57 L1342.23,589.60 L1343.45,584.75 L1344.67,580.04 L1345.89,575.48 L1347.10,571.08 L1348.32,566.85 L1349.54,562.80 L1350.76,558.94 L1351.98,555.28 L1353.20,551.83 L1354.41,548.60 L1355.63,545.60 L1356.85,542.83 L1358.07,540.30 L1359.29,538.02 L1360.51,536.00 L1361.72,534.23 L1362.94,532.72 L1364.16,531.48 L1365.38,530.51 L1366.60,529.81 L1367.82,529.39 L1369.03,529.24 L1370.25,529.36 L1371.47,529.76 L1372.69,530.44 L1373.91,531.38 L1375.13,532.60 L1376.34,534.08 L1377.56,535.82 L1378.78,537.83 L1380.00,540.08 L1381.22,542.59 L1382.44,545.34 L1383.66,548.32 L1384.87,551.53 L1386.09,554.96 L1387.31,558.59 L1388.53,562.44 L1389.75,566.47 L1390.97,570.68 L1392.18,575.07 L1393.40,579.62 L1394.62,584.31 L1395.84,589.15 L1397.06,594.11 L1398.28,599.18 L1399.49,604.35 L1400.71,609.61 L1401.93,614.94 L1403.15,620.34 L1404.37,625.78 L1405.59,631.25 L1406.80,636.75 L1408.02,642.25 L1409.24,647.75 L1410.46,653.22 L1411.68,658.66 L1412.90,664.05 L1414.11,669.38 L1415.33,674.63 L1416.55,679.80 L1417.77,684.86 L1418.99,689.81 L1420.21,694.63 L1421.43,699.32 L1422.64,703.85 L1423.86,708.23 L1425.08,712.43 L1426.30,716.45 L1427.52,720.27 L1428.74,723.90 L1429.95,727.31 L1431.17,730.50 L1432.39,733.46 L1433.61,736.19 L1434.83,738.68 L1436.05,740.92 L1437.26,742.90 L1438.48,744.63 L1439.70,746.09 L1440.92,747.28 L1442.14,748.21 L1443.36,748.86 L1444.57,749.24 L1445.79,749.34 L1447.01,749.17 L1448.23,748.73 L1449.45,748.01 L1450.67,747.02 L1451.89,745.76 L1453.10,744.23 L1454.32,742.44 L1455.54,740.39 L1456.76,738.09 L1457.98,735.55 L1459.20,732.76 L1460.41,729.74 L1461.63,726.50 L1462.85,723.03 L1464.07,719.36 L1465.29,715.48 L1466.51,711.42 L1467.72,707.17 L1468.94,702.76 L1470.16,698.19 L1471.38,693.47 L1472.60,688.61 L1473.82,683.63 L1475.03,678.54 L1476.25,673.36 L1477.47,668.08 L1478.69,662.74 L1479.91,657.33 L1481.13,651.89 L1482.34,646.41 L1483.56,640.91 L1484.78,635.41 L1486.00,629.91 L1487.22,624.45 L1488.44,619.01 L1489.66,613.63 L1490.87,608.32 L1492.09,603.08 L1493.31,597.93 L1494.53,592.88 L1495.75,587.95 L1496.97,583.15 L1498.18,578.49 L1499.40,573.98 L1500.62,569.64 L1501.84,565.47 L1503.06,561.48 L1504.28,557.69 L1505.49,554.10 L1506.71,550.72 L1507.93,547.57 L1509.15,544.64 L1510.37,541.95 L1511.59,539.51 L1512.80,537.31 L1514.02,535.37 L1515.24,533.69 L1516.46,532.28 L1517.68,531.13 L1518.90,530.25 L1520.11,529.64" stroke="#00cc00"/>
<path d="M301.72,835.61 L302.94,842.66 L304.16,849.10 L305.38,854.92 L306.60,860.11 L307.82,864.65 L309.03,868.53 L310.25,871.75 L311.47,874.29 L312.69,876.15 L313.91,877.32 L315.13,877.81 L316.34,877.60 L317.56,876.70 L318.78,875.12 L320.00,872.85 L321.22,869.90 L322.44,866.28 L323.66,862.00 L324.87,857.07 L326.09,851.50 L327.31,845.31 L328.53,838.50 L329.75,831.11 L330.97,823.14 L332.18,814.61 L333.40,805.55 L334.62,795.99 L335.84,785.93 L337.06,775.42 L338.28,764.47 L339.49,753.12 L340.71,741.38 L341.93,729.30 L343.15,716.89 L344.37,704.20 L345.59,691.25 L346.80,678.08 L348.02,664.71 L349.24,651.19 L350.46,637.54 L351.68,623.81 L352.90,610.01 L354.11,596.20 L355.33,582.40 L356.55,568.65 L357.77,554.97 L358.99,541.42 L360.21,528.02 L361.43,514.79 L362.64,501.79 L363.86,489.04 L365.08,476.56 L366.30,464.40 L367.52,452.58 L368.74,441.14 L369.95,430.09 L371.17,419.47 L372.39,409.31 L373.61,399.63 L374.83,390.45 L376.05,381.80 L377.26,373.70 L378.48,366.17 L379.70,359.23 L380.92,352.89 L382.14,347.17 L383.36,342.09 L384.57,337.66 L385.79,333.89 L387.01,330.79 L388.23,328.36 L389.45,326.61 L390.67,325.56 L391.89,325.19 L393.10,325.51 L394.32,326.53 L395.54,328.23 L396.76,330.61 L397.98,333.67 L399.20,337.40 L400.41,341.79 L401.63,346.83 L402.85,352.51 L404.07,358.81 L405.29,365.71 L406.51,373.20 L407.72,381.27 L408.94,389.88 L410.16,399.03 L411.38,408.68 L412.60,418.81 L413.82,429.40 L415.03,440.42 L416.25,451.84 L417.47,463.64 L418.69,475.78 L419.91,488.23 L421.13,500.97 L422.34,513.96 L423.56,527.17 L424.78,540.56 L426.00,554.11 L427.22,567.77 L428.44,581.52 L429.66,595.32 L430.87,609.13 L432.09,622.93 L433.31,636.67 L434.53,650.32 L435.75,663.86 L436.97,677.23 L438.18,690.42 L439.40,703.38 L440.62,716.09 L441.84,728.52 L443.06,740.62 L444.28,752.38 L445.49,763.76 L446.71,774.74 L447.93,785.28 L449.15,795.36 L450.37,804.96 L451.59,814.05 L452.80,822.61 L454.02,830.62 L455.24,838.05 L456.46,844.89 L457.68,851.13 L458.90,856.74 L460.11,861.71 L461.33,866.03 L462.55,869.69 L463.77,872.68 L464.99,874.99 L466.21,876.62 L467.43,877.56 L468.64,877.81 L469.86,877.37 L471.08,876.25 L472.30,874.43 L473.52,871.93 L474.74,868.76 L475.95,864.92 L477.17,860.42 L478.39,855.27 L479.61,849.49 L480.83,843.09 L482.05,836.08 L483.26,828.49 L484.48,820.33 L485.70,811.62 L486.92,802.39 L488.14,792.66 L489.36,782.45 L490.57,771.79 L491.79,760.70 L493.01,749.21 L494.23,737.35 L495.45,725.16 L496.67,712.65 L497.89,699.87 L499.10,686.84 L500.32,673.60 L501.54,660.18 L502.76,646.61 L503.98,632.93 L505.20,619.17 L506.41,605.37 L507.63,591.55 L508.85,577.77 L510.07,564.04 L511.29,550.40 L512.51,536.89 L513.72,523.55 L514.94,510.40 L516.16,497.47 L517.38,484.81 L518.60,472.44 L519.82,460.39 L521.03,448.69 L522.25,437.37 L523.47,426.47 L524.69,416.00 L525.91,406.00 L527.13,396.48 L528.34,387.48 L529.56,379.02 L530.78,371.10 L532.00,363.77 L533.22,357.03 L534.44,350.90 L535.66,345.39 L536.87,340.53 L538.09,336.32 L539.31,332.77 L540.53,329.89 L541.75,327.70 L542.97,326.18 L544.18,325.36 L545.40,325.22 L546.62,325.78 L547.84,327.02 L549.06,328.95 L550.28,331.56 L551.49,334.85 L552.71,338.80 L553.93,343.41 L555.15,348.67 L556.37,354.56 L557.59,361.06 L558.80,368.17 L560.02,375.85 L561.24,384.11 L562.46,392.90 L563.68,402.22 L564.90,412.03 L566.11,422.32 L567.33,433.06 L568.55,444.22 L569.77,455.77 L570.99,467.68 L572.21,479.93 L573.43,492.49 L574.64,505.31 L575.86,518.38 L577.08,531.65 L578.30,545.10 L579.52,558.69 L580.74,572.39 L581.95,586.16 L583.17,599.96 L584.39,613.78 L585.61,627.56 L586.83,641.27 L588.05,654.89 L589.26,668.37 L590.48,681.69 L591.70,694.80 L592.92,707.69 L594.14,720.30 L595.36,732.62 L596.57,744.62 L597.79,756.25 L599.01,767.50 L600.23,778.33 L601.45,788.72 L602.67,798.65 L603.89,808.08 L605.10,816.99 L606.32,825.36 L607.54,833.18 L608.76,840.42 L609.98,847.06 L611.20,853.08 L612.41,858.48 L613.63,863.23 L614.85,867.33 L616.07,870.77 L617.29,873.53 L618.51,875.62 L619.72,877.01 L620.94,877.72 L622.16,877.74 L623.38,877.07 L624.60,875.71 L625.82,873.67 L627.03,870.94 L628.25,867.54 L629.47,863.48 L630.69,858.76 L631.91,853.39 L633.13,847.40 L634.34,840.80 L635.56,833.59 L636.78,825.81 L638.00,817.46 L639.22,808.58 L640.44,799.18 L641.66,789.28 L642.87,778.91 L644.09,768.10 L645.31,756.88 L646.53,745.26 L647.75,733.29 L648.97,720.99 L650.18,708.39 L651.40,695.52 L652.62,682.41 L653.84,669.11 L655.06,655.63 L656.28,642.02 L657.49,628.31 L658.71,614.53 L659.93,600.72 L661.15,586.91 L662.37,573.14 L663.59,559.44 L664.80,545.84 L666.02,532.39 L667.24,519.10 L668.46,506.02 L669.68,493.18 L670.90,480.61 L672.11,468.35 L673.33,456.41 L674.55,444.84 L675.77,433.66 L676.99,422.90 L678.21,412.59 L679.43,402.74 L680.64,393.40 L681.86,384.57 L683.08,376.29 L684.30,368.57 L685.52,361.43 L686.74,354.90 L687.95,348.98 L689.17,343.69 L690.39,339.04 L691.61,335.05 L692.83,331.73 L694.05,329.08 L695.26,327.11 L696.48,325.83 L697.70,325.23 L698.92,325.33 L700.14,326.12 L701.36,327.60 L702.57,329.76 L703.79,332.60 L705.01,336.11 L706.23,340.28 L707.45,345.11 L708.67,350.58 L709.89,356.68 L711.10,363.38 L712.32,370.69 L713.54,378.57 L714.76,387.00 L715.98,395.98 L717.20,405.47 L718.41,415.44 L719.63,425.88 L720.85,436.77 L722.07,448.06 L723.29,459.74 L724.51,471.77 L725.72,484.12 L726.94,496.77 L728.16,509.68 L729.38,522.82 L730.60,536.16 L731.82,549.66 L733.03,563.29 L734.25,577.01 L735.47,590.80 L736.69,604.61 L737.91,618.42 L739.13,632.18 L740.34,645.87 L741.56,659.44 L742.78,672.87 L744.00,686.12 L745.22,699.16 L746.44,711.96 L747.66,724.48 L748.87,736.69 L750.09,748.57 L751.31,760.08 L752.53,771.19 L753.75,781.88 L754.97,792.11 L756.18,801.87 L757.40,811.13 L758.62,819.87 L759.84,828.06 L761.06,835.68 L762.28,842.72 L763.49,849.15 L764.71,854.97 L765.93,860.15 L767.15,864.69 L768.37,868.56 L769.59,871.78 L770.80,874.31 L772.02,876.16 L773.24,877.33 L774.46,877.81 L775.68,877.59 L776.90,876.69 L778.11,875.10 L779.33,872.82 L780.55,869.87 L781.77,866.25 L782.99,861.96 L784.21,857.02 L785.43,851.45 L786.64,845.25 L787.86,838.44 L789.08,831.04 L790.30,823.06 L791.52,814.53 L792.74,805.47 L793.95,795.90 L795.17,785.84 L796.39,775.33 L797.61,764.37 L798.83,753.01 L800.05,741.28 L801.26,729.19 L802.48,716.78 L803.70,704.09 L804.92,691.14 L806.14,677.96 L807.36,664.59 L808.57,651.07 L809.79,637.42 L811.01,623.68 L812.23,609.89 L813.45,596.08 L814.67,582.28 L815.89,568.52 L817.10,554.85 L818.32,541.30 L819.54,527.90 L820.76,514.68 L821.98,501.68 L823.20,488.92 L824.41,476.45 L825.63,464.29 L826.85,452.48 L828.07,441.04 L829.29,429.99 L830.51,419.38 L831.72,409.22 L832.94,399.54 L834.16,390.37 L835.38,381.73 L836.60,373.63 L837.82,366.11 L839.03,359.17 L840.25,352.84 L841.47,347.13 L842.69,342.05 L843.91,337.63 L845.13,333.86 L846.34,330.76 L847.56,328.34 L848.78,326.60 L850.00,325.55 L851.22,325.19 L852.44,325.52 L853.66,326.54 L854.87,328.25 L856.09,330.64 L857.31,333.70 L858.53,337.44 L859.75,341.83 L860.97,346.88 L862.18,352.56 L863.40,358.86 L864.62,365.77 L865.84,373.27 L867.06,381.34 L868.28,389.96 L869.49,399.11 L870.71,408.77 L871.93,418.90 L873.15,429.50 L874.37,440.52 L875.59,451.94 L876.80,463.74 L878.02,475.89 L879.24,488.34 L880.46,501.08 L881.68,514.08 L882.90,527.29 L884.11,540.68 L885.33,554.23 L886.55,567.89 L887.77,581.64 L888.99,595.44 L890.21,609.26 L891.43,623.05 L892.64,636.79 L893.86,650.44 L895.08,663.98 L896.30,677.35 L897.52,690.53 L898.74,703.50 L899.95,716.20 L901.17,728.62 L902.39,740.73 L903.61,752.48 L904.83,763.86 L906.05,774.83 L907.26,785.37 L908.48,795.45 L909.70,805.04 L910.92,814.13 L912.14,822.68 L913.36,830.68 L914.57,838.11 L915.79,844.95 L917.01,851.18 L918.23,856.78 L919.45,861.75 L920.67,866.06 L921.89,869.72 L923.10,872.70 L924.32,875.01 L925.54,876.63 L926.76,877.57 L927.98,877.81 L929.20,877.37 L930.41,876.23 L931.63,874.41 L932.85,871.91 L934.07,868.73 L935.29,864.88 L936.51,860.37 L937.72,855.22 L938.94,849.43 L940.16,843.03 L941.38,836.02 L942.60,828.42 L943.82,820.26 L945.03,811.54 L946.25,802.31 L947.47,792.57 L948.69,782.36 L949.91,771.69 L951.13,760.60 L952.34,749.11 L953.56,737.25 L954.78,725.05 L956.00,712.54 L957.22,699.76 L958.44,686.73 L959.66,673.48 L960.87,660.06 L962.09,646.49 L963.31,632.81 L964.53,619.05 L965.75,605.25 L966.97,591.43 L968.18,577.64 L969.40,563.92 L970.62,550.28 L971.84,536.77 L973.06,523.43 L974.28,510.28 L975.49,497.36 L976.71,484.70 L977.93,472.33 L979.15,460.28 L980.37,448.59 L981.59,437.28 L982.80,426.38 L984.02,415.91 L985.24,405.91 L986.46,396.40 L987.68,387.40 L988.90,378.94 L990.11,371.04 L991.33,363.71 L992.55,356.97 L993.77,350.85 L994.99,345.35 L996.21,340.49 L997.43,336.28 L998.64,332.74 L999.86,329.87 L1001.08,327.68 L1002.30,326.17 L1003.52,325.35 L1004.74,325.22 L1005.95,325.79 L1007.17,327.04 L1008.39,328.97 L1009.61,331.59 L1010.83,334.88 L1012.05,338.84 L1013.26,343.46 L1014.48,348.72 L1015.70,354.61 L1016.92,361.12 L1018.14,368.23 L1019.36,375.92 L1020.57,384.18 L1021.79,392.98 L1023.01,402.30 L1024.23,412.12 L1025.45,422.42 L1026.67,433.16 L1027.89,444.32 L1029.10,455.87 L1030.32,467.79 L1031.54,480.04 L1032.76,492.60 L1033.98,505.43 L1035.20,518.50 L1036.41,531.77 L1037.63,545.22 L1038.85,558.81 L1040.07,572.51 L1041.29,586.28 L1042.51,600.09 L1043.72,613.90 L1044.94,627.68 L1046.16,641.39 L1047.38,655.01 L1048.60,668.49 L1049.82,681.81 L1051.03,694.92 L1052.25,707.80 L1053.47,720.41 L1054.69,732.73 L1055.91,744.72 L1057.13,756.35 L1058.34,767.60 L1059.56,778.43 L1060.78,788.81 L1062.00,798.73 L1063.22,808.16 L1064.44,817.07 L1065.66,825.44 L1066.87,833.25 L1068.09,840.48 L1069.31,847.11 L1070.53,853.13 L1071.75,858.52 L1072.97,863.27 L1074.18,867.37 L1075.40,870.80 L1076.62,873.56 L1077.84,875.63 L1079.06,877.02 L1080.28,877.73 L1081.49,877.74 L1082.71,877.06 L1083.93,875.70 L1085.15,873.64 L1086.37,870.91 L1087.59,867.51 L1088.80,863.44 L1090.02,858.71 L1091.24,853.34 L1092.46,847.35 L1093.68,840.74 L1094.90,833.53 L1096.11,825.74 L1097.33,817.39 L1098.55,808.50 L1099.77,799.09 L1100.99,789.19 L1102.21,778.82 L1103.43,768.01 L1104.64,756.78 L1105.86,745.16 L1107.08,733.18 L1108.30,720.88 L1109.52,708.27 L1110.74,695.40 L1111.95,682.30 L1113.17,668.99 L1114.39,655.51 L1115.61,641.90 L1116.83,628.19 L1118.05,614.41 L1119.26,600.60 L1120.48,586.79 L1121.70,573.02 L1122.92,559.32 L1124.14,545.72 L1125.36,532.27 L1126.57,518.98 L1127.79,505.91 L1129.01,493.07 L1130.23,480.50 L1131.45,468.24 L1132.67,456.31 L1133.89,444.74 L1135.10,433.56 L1136.32,422.81 L1137.54,412.50 L1138.76,402.66 L1139.98,393.32 L1141.20,384.50 L1142.41,376.22 L1143.63,368.51 L1144.85,361.37 L1146.07,354.84 L1147.29,348.93 L1148.51,343.64 L1149.72,339.00 L1150.94,335.02 L1152.16,331.70 L1153.38,329.06 L1154.60,327.10 L1155.82,325.82 L1157.03,325.23 L1158.25,325.34 L1159.47,326.13 L1160.69,327.61 L1161.91,329.78 L1163.13,332.62 L1164.34,336.14 L1165.56,340.32 L1166.78,345.16 L1168.00,350.63 L1169.22,356.73 L1170.44,363.45 L1171.66,370.75 L1172.87,378.64 L1174.09,387.08 L1175.31,396.06 L1176.53,405.55 L1177.75,415.53 L1178.97,425.98 L1180.18,436.86 L1181.40,448.16 L1182.62,459.84 L1183.84,471.87 L1185.06,484.23 L1186.28,496.88 L1187.49,509.80 L1188.71,522.94 L1189.93,536.28 L1191.15,549.78 L1192.37,563.41 L1193.59,577.13 L1194.80,590.92 L1196.02,604.73 L1197.24,618.54 L1198.46,632.30 L1199.68,645.99 L1200.90,659.56 L1202.11,672.99 L1203.33,686.24 L1204.55,699.28 L1205.77,712.07 L1206.99,724.59 L1208.21,736.80 L1209.43,748.67 L1210.64,760.18 L1211.86,771.29 L1213.08,781.97 L1214.30,792.20 L1215.52,801.96 L1216.74,811.21 L1217.95,819.94 L1219.17,828.13 L1220.39,835.74 L1221.61,842.78 L1222.83,849.21 L1224.05,855.02 L1225.26,860.19 L1226.48,864.72 L1227.70,868.60 L1228.92,871.80 L1230.14,874.33 L1231.36,876.18 L1232.57,877.34 L1233.79,877.81 L1235.01,877.59 L1236.23,876.68 L1237.45,875.08 L1238.67,872.80 L1239.89,869.84 L1241.10,866.21 L1242.32,861.92 L1243.54,856.98 L1244.76,851.40 L1245.98,845.19 L1247.20,838.38 L1248.41,830.97 L1249.63,822.99 L1250.85,814.46 L1252.07,805.39 L1253.29,795.81 L1254.51,785.75 L1255.72,775.23 L1256.94,764.27 L1258.16,752.91 L1259.38,741.17 L1260.60,729.08 L1261.82,716.67 L1263.03,703.97 L1264.25,691.02 L1265.47,677.84 L1266.69,664.47 L1267.91,650.95 L1269.13,637.30 L1270.34,623.56 L1271.56,609.77 L1272.78,595.95 L1274.00,582.15 L1275.22,568.40 L1276.44,554.73 L1277.66,541.18 L1278.87,527.78 L1280.09,514.56 L1281.31,501.56 L1282.53,488.81 L1283.75,476.34 L1284.97,464.19 L1286.18,452.38 L1287.40,440.94 L1288.62,429.90 L1289.84,419.29 L1291.06,409.13 L1292.28,399.46 L1293.49,390.29 L1294.71,381.65 L1295.93,373.56 L1297.15,366.04 L1298.37,359.11 L1299.59,352.78 L1300.80,347.08 L1302.02,342.01 L1303.24,337.59 L1304.46,333.83 L1305.68,330.74 L1306.90,328.32 L1308.11,326.59 L1309.33,325.55 L1310.55,325.19 L1311.77,325.53 L1312.99,326.55 L1314.21,328.26 L1315.43,330.66 L1316.64,333.73 L1317.86,337.47 L1319.08,341.88 L1320.30,346.93 L1321.52,352.61 L1322.74,358.92 L1323.95,365.84 L1325.17,373.34 L1326.39,381.42 L1327.61,390.04 L1328.83,399.20 L1330.05,408.85 L1331.26,419.00 L1332.48,429.59 L1333.70,440.62 L1334.92,452.05 L1336.14,463.85 L1337.36,476.00 L1338.57,488.46 L1339.79,501.20 L1341.01,514.19 L1342.23,527.40 L1343.45,540.80 L1344.67,554.35 L1345.89,568.02 L1347.10,581.77 L1348.32,595.56 L1349.54,609.38 L1350.76,623.17 L1351.98,636.91 L1353.20,650.57 L1354.41,664.09 L1355.63,677.47 L1356.85,690.65 L1358.07,703.61 L1359.29,716.32 L1360.51,728.73 L1361.72,740.83 L1362.94,752.59 L1364.16,763.96 L1365.38,774.93 L1366.60,785.46 L1367.82,795.54 L1369.03,805.13 L1370.25,814.21 L1371.47,822.76 L1372.69,830.75 L1373.91,838.18 L1375.13,845.01 L1376.34,851.23 L1377.56,856.83 L1378.78,861.79 L1380.00,866.10 L1381.22,869.75 L1382.44,872.73 L1383.66,875.03 L1384.87,876.64 L1386.09,877.57 L1387.31,877.81 L1388.53,877.36 L1389.75,876.22 L1390.97,874.39 L1392.18,871.88 L1393.40,868.70 L1394.62,864.84 L1395.84,860.33 L1397.06,855.17 L1398.28,849.38 L1399.49,842.97 L1400.71,835.95 L1401.93,828.35 L1403.15,820.18 L1404.37,811.46 L1405.59,802.22 L1406.80,792.48 L1408.02,782.26 L1409.24,771.59 L1410.46,760.50 L1411.68,749.00 L1412.90,737.14 L1414.11,724.94 L1415.33,712.43 L1416.55,699.64 L1417.77,686.61 L1418.99,673.37 L1420.21,659.94 L1421.43,646.37 L1422.64,632.69 L1423.86,618.93 L1425.08,605.12 L1426.30,591.31 L1427.52,577.52 L1428.74,563.79 L1429.95,550.16 L1431.17,536.65 L1432.39,523.31 L1433.61,510.16 L1434.83,497.24 L1436.05,484.59 L1437.26,472.22 L1438.48,460.18 L1439.70,448.49 L1440.92,437.18 L1442.14,426.28 L1443.36,415.82 L1444.57,405.83 L1445.79,396.32 L1447.01,387.33 L1448.23,378.87 L1449.45,370.97 L1450.67,363.64 L1451.89,356.91 L1453.10,350.79 L1454.32,345.30 L1455.54,340.45 L1456.76,336.25 L1457.98,332.71 L1459.20,329.85 L1460.41,327.66 L1461.63,326.16 L1462.85,325.35 L1464.07,325.23 L1465.29,325.79 L1466.51,327.05 L1467.72,328.99 L1468.94,331.62 L1470.16,334.92 L1471.38,338.88 L1472.60,343.50 L1473.82,348.77 L1475.03,354.67 L1476.25,361.18 L1477.47,368.30 L1478.69,376.00 L1479.91,384.26 L1481.13,393.06 L1482.34,402.39 L1483.56,412.21 L1484.78,422.51 L1486.00,433.25 L1487.22,444.42 L1488.44,455.98 L1489.66,467.90 L1490.87,480.15 L1492.09,492.71 L1493.31,505.54 L1494.53,518.61 L1495.75,531.89 L1496.97,545.34 L1498.18,558.93 L1499.40,572.63 L1500.62,586.40 L1501.84,600.21 L1503.06,614.02 L1504.28,627.80 L1505.49,641.52 L1506.71,655.13 L1507.93,668.61 L1509.15,681.92 L1510.37,695.04 L1511.59,707.91 L1512.80,720.53 L1514.02,732.84 L1515.24,744.83 L1516.46,756.45 L1517.68,767.69 L1518.90,778.52 L1520.11,788.90" stroke="#cc0000"/>
<path d="M301.72,725.15 L302.94,727.07 L304.16,728.91 L305.38,730.65 L306.60,732.29 L307.82,733.83 L309.03,735.27 L310.25,736.59 L311.47,737.80 L312.69,738.90 L313.91,739.87 L315.13,740.73 L316.34,741.46 L317.56,742.06 L318.78,742.54 L320.00,742.89 L321.22,743.11 L322.44,743.20 L323.66,743.16 L324.87,742.99 L326.09,742.70 L327.31,742.27 L328.53,741.72 L329.75,741.04 L330.97,740.23 L332.18,739.30 L333.40,738.26 L334.62,737.09 L335.84,735.81 L337.06,734.42 L338.28,732.92 L339.49,731.32 L340.71,729.62 L341.93,727.82 L343.15,725.93 L344.37,723.95 L345.59,721.89 L346.80,719.76 L348.02,717.55 L349.24,715.28 L350.46,712.95 L351.68,710.56 L352.90,708.12 L354.11,705.65 L355.33,703.13 L356.55,700.59 L357.77,698.02 L358.99,695.44 L360.21,692.85 L361.43,690.25 L362.64,687.66 L363.86,685.07 L365.08,682.50 L366.30,679.95 L367.52,677.43 L368.74,674.94 L369.95,672.50 L371.17,670.10 L372.39,667.75 L373.61,665.47 L374.83,663.25 L376.05,661.09 L377.26,659.02 L378.48,657.02 L379.70,655.11 L380.92,653.29 L382.14,651.56 L383.36,649.94 L384.57,648.41 L385.79,647.00 L387.01,645.69 L388.23,644.50 L389.45,643.43 L390.67,642.47 L391.89,641.64 L393.10,640.93 L394.32,640.34 L395.54,639.89 L396.76,639.56 L397.98,639.36 L399.20,639.29 L400.41,639.35 L401.63,639.54 L402.85,639.86 L404.07,640.31 L405.29,640.89 L406.51,641.59 L407.72,642.41 L408.94,643.36 L410.16,644.43 L411.38,645.61 L412.60,646.91 L413.82,648.32 L415.03,649.84 L416.25,651.46 L417.47,653.18 L418.69,654.99 L419.91,656.90 L421.13,658.89 L422.34,660.96 L423.56,663.11 L424.78,665.32 L426.00,667.61 L427.22,669.95 L428.44,672.34 L429.66,674.79 L430.87,677.27 L432.09,679.79 L433.31,682.34 L434.53,684.91 L435.75,687.49 L436.97,690.09 L438.18,692.68 L439.40,695.28 L440.62,697.86 L441.84,700.43 L443.06,702.97 L444.28,705.49 L445.49,707.97 L446.71,710.40 L447.93,712.79 L449.15,715.13 L450.37,717.41 L451.59,719.62 L452.80,721.76 L454.02,723.82 L455.24,725.80 L456.46,727.70 L457.68,729.50 L458.90,731.21 L460.11,732.82 L461.33,734.33 L462.55,735.73 L463.77,737.01 L464.99,738.19 L466.21,739.24 L467.43,740.18 L468.64,740.99 L469.86,741.68 L471.08,742.24 L472.30,742.67 L473.52,742.98 L474.74,743.16 L475.95,743.20 L477.17,743.12 L478.39,742.91 L479.61,742.57 L480.83,742.10 L482.05,741.50 L483.26,740.78 L484.48,739.93 L485.70,738.96 L486.92,737.88 L488.14,736.67 L489.36,735.36 L490.57,733.93 L491.79,732.39 L493.01,730.76 L494.23,729.02 L495.45,727.19 L496.67,725.27 L497.89,723.27 L499.10,721.18 L500.32,719.02 L501.54,716.79 L502.76,714.50 L503.98,712.15 L505.20,709.74 L506.41,707.30 L507.63,704.81 L508.85,702.28 L510.07,699.73 L511.29,697.16 L512.51,694.57 L513.72,691.97 L514.94,689.38 L516.16,686.78 L517.38,684.20 L518.60,681.64 L519.82,679.10 L521.03,676.59 L522.25,674.12 L523.47,671.69 L524.69,669.31 L525.91,666.98 L527.13,664.71 L528.34,662.51 L529.56,660.39 L530.78,658.34 L532.00,656.37 L533.22,654.49 L534.44,652.70 L535.66,651.00 L536.87,649.41 L538.09,647.93 L539.31,646.55 L540.53,645.28 L541.75,644.13 L542.97,643.09 L544.18,642.18 L545.40,641.38 L546.62,640.72 L547.84,640.18 L549.06,639.76 L550.28,639.48 L551.49,639.32 L552.71,639.30 L553.93,639.40 L555.15,639.64 L556.37,640.00 L557.59,640.49 L558.80,641.11 L560.02,641.85 L561.24,642.72 L562.46,643.71 L563.68,644.81 L564.90,646.04 L566.11,647.37 L567.33,648.82 L568.55,650.37 L569.77,652.02 L570.99,653.78 L572.21,655.62 L573.43,657.56 L574.64,659.57 L575.86,661.67 L577.08,663.84 L578.30,666.09 L579.52,668.39 L580.74,670.75 L581.95,673.16 L583.17,675.62 L584.39,678.11 L585.61,680.64 L586.83,683.20 L588.05,685.77 L589.26,688.36 L590.48,690.96 L591.70,693.56 L592.92,696.15 L594.14,698.73 L595.36,701.29 L596.57,703.82 L597.79,706.33 L599.01,708.79 L600.23,711.21 L601.45,713.59 L602.67,715.90 L603.89,718.16 L605.10,720.35 L606.32,722.46 L607.54,724.50 L608.76,726.45 L609.98,728.32 L611.20,730.09 L612.41,731.77 L613.63,733.34 L614.85,734.81 L616.07,736.17 L617.29,737.42 L618.51,738.55 L619.72,739.57 L620.94,740.46 L622.16,741.23 L623.38,741.88 L624.60,742.40 L625.82,742.79 L627.03,743.05 L628.25,743.19 L629.47,743.19 L630.69,743.06 L631.91,742.81 L633.13,742.42 L634.34,741.91 L635.56,741.27 L636.78,740.51 L638.00,739.62 L639.22,738.61 L640.44,737.49 L641.66,736.24 L642.87,734.89 L644.09,733.42 L645.31,731.86 L646.53,730.19 L647.75,728.42 L648.97,726.56 L650.18,724.61 L651.40,722.57 L652.62,720.46 L653.84,718.28 L655.06,716.03 L656.28,713.72 L657.49,711.35 L658.71,708.93 L659.93,706.46 L661.15,703.96 L662.37,701.43 L663.59,698.87 L664.80,696.29 L666.02,693.70 L667.24,691.10 L668.46,688.50 L669.68,685.91 L670.90,683.34 L672.11,680.78 L673.33,678.25 L674.55,675.75 L675.77,673.29 L676.99,670.88 L678.21,668.52 L679.43,666.21 L680.64,663.97 L681.86,661.79 L683.08,659.69 L684.30,657.66 L685.52,655.73 L686.74,653.87 L687.95,652.12 L689.17,650.46 L690.39,648.90 L691.61,647.45 L692.83,646.11 L694.05,644.88 L695.26,643.76 L696.48,642.77 L697.70,641.90 L698.92,641.15 L700.14,640.52 L701.36,640.02 L702.57,639.65 L703.79,639.41 L705.01,639.30 L706.23,639.32 L707.45,639.47 L708.67,639.74 L709.89,640.15 L711.10,640.68 L712.32,641.34 L713.54,642.13 L714.76,643.04 L715.98,644.07 L717.20,645.21 L718.41,646.47 L719.63,647.85 L720.85,649.33 L722.07,650.91 L723.29,652.60 L724.51,654.39 L725.72,656.26 L726.94,658.23 L728.16,660.27 L729.38,662.40 L730.60,664.59 L731.82,666.85 L733.03,669.18 L734.25,671.55 L735.47,673.98 L736.69,676.45 L737.91,678.96 L739.13,681.50 L740.34,684.06 L741.56,686.64 L742.78,689.24 L744.00,691.83 L745.22,694.43 L746.44,697.02 L747.66,699.59 L748.87,702.14 L750.09,704.67 L751.31,707.16 L752.53,709.61 L753.75,712.02 L754.97,714.37 L756.18,716.67 L757.40,718.90 L758.62,721.07 L759.84,723.15 L761.06,725.16 L762.28,727.09 L763.49,728.92 L764.71,730.67 L765.93,732.31 L767.15,733.85 L768.37,735.28 L769.59,736.60 L770.80,737.81 L772.02,738.91 L773.24,739.88 L774.46,740.74 L775.68,741.46 L776.90,742.07 L778.11,742.55 L779.33,742.89 L780.55,743.11 L781.77,743.20 L782.99,743.16 L784.21,742.99 L785.43,742.69 L786.64,742.27 L787.86,741.71 L789.08,741.03 L790.30,740.22 L791.52,739.29 L792.74,738.25 L793.95,737.08 L795.17,735.80 L796.39,734.41 L797.61,732.91 L798.83,731.31 L800.05,729.60 L801.26,727.80 L802.48,725.91 L803.70,723.93 L804.92,721.87 L806.14,719.74 L807.36,717.53 L808.57,715.26 L809.79,712.92 L811.01,710.54 L812.23,708.10 L813.45,705.62 L814.67,703.11 L815.89,700.57 L817.10,698.00 L818.32,695.42 L819.54,692.83 L820.76,690.23 L821.98,687.63 L823.20,685.05 L824.41,682.48 L825.63,679.93 L826.85,677.41 L828.07,674.92 L829.29,672.48 L830.51,670.08 L831.72,667.73 L832.94,665.45 L834.16,663.23 L835.38,661.07 L836.60,659.00 L837.82,657.00 L839.03,655.09 L840.25,653.27 L841.47,651.55 L842.69,649.92 L843.91,648.40 L845.13,646.99 L846.34,645.68 L847.56,644.49 L848.78,643.42 L850.00,642.46 L851.22,641.63 L852.44,640.92 L853.66,640.34 L854.87,639.88 L856.09,639.56 L857.31,639.36 L858.53,639.29 L859.75,639.35 L860.97,639.55 L862.18,639.87 L863.40,640.32 L864.62,640.89 L865.84,641.59 L867.06,642.42 L868.28,643.37 L869.49,644.44 L870.71,645.62 L871.93,646.92 L873.15,648.33 L874.37,649.85 L875.59,651.47 L876.80,653.19 L878.02,655.01 L879.24,656.91 L880.46,658.90 L881.68,660.98 L882.90,663.13 L884.11,665.34 L885.33,667.63 L886.55,669.97 L887.77,672.37 L888.99,674.81 L890.21,677.29 L891.43,679.81 L892.64,682.36 L893.86,684.93 L895.08,687.51 L896.30,690.11 L897.52,692.71 L898.74,695.30 L899.95,697.88 L901.17,700.45 L902.39,702.99 L903.61,705.51 L904.83,707.99 L906.05,710.43 L907.26,712.82 L908.48,715.15 L909.70,717.43 L910.92,719.64 L912.14,721.78 L913.36,723.84 L914.57,725.82 L915.79,727.72 L917.01,729.52 L918.23,731.23 L919.45,732.84 L920.67,734.34 L921.89,735.74 L923.10,737.02 L924.32,738.20 L925.54,739.25 L926.76,740.18 L927.98,740.99 L929.20,741.68 L930.41,742.24 L931.63,742.68 L932.85,742.98 L934.07,743.16 L935.29,743.20 L936.51,743.12 L937.72,742.91 L938.94,742.56 L940.16,742.09 L941.38,741.50 L942.60,740.77 L943.82,739.92 L945.03,738.96 L946.25,737.87 L947.47,736.66 L948.69,735.34 L949.91,733.92 L951.13,732.38 L952.34,730.74 L953.56,729.01 L954.78,727.18 L956.00,725.25 L957.22,723.25 L958.44,721.16 L959.66,719.00 L960.87,716.77 L962.09,714.48 L963.31,712.13 L964.53,709.72 L965.75,707.27 L966.97,704.78 L968.18,702.26 L969.40,699.71 L970.62,697.13 L971.84,694.55 L973.06,691.95 L974.28,689.35 L975.49,686.76 L976.71,684.18 L977.93,681.62 L979.15,679.08 L980.37,676.57 L981.59,674.09 L982.80,671.67 L984.02,669.28 L985.24,666.96 L986.46,664.69 L987.68,662.49 L988.90,660.37 L990.11,658.32 L991.33,656.35 L992.55,654.47 L993.77,652.68 L994.99,650.99 L996.21,649.40 L997.43,647.91 L998.64,646.53 L999.86,645.27 L1001.08,644.12 L1002.30,643.08 L1003.52,642.17 L1004.74,641.38 L1005.95,640.71 L1007.17,640.17 L1008.39,639.76 L1009.61,639.48 L1010.83,639.32 L1012.05,639.30 L1013.26,639.40 L1014.48,639.64 L1015.70,640.00 L1016.92,640.50 L1018.14,641.11 L1019.36,641.86 L1020.57,642.73 L1021.79,643.72 L1023.01,644.82 L1024.23,646.05 L1025.45,647.38 L1026.67,648.83 L1027.89,650.38 L1029.10,652.04 L1030.32,653.79 L1031.54,655.64 L1032.76,657.57 L1033.98,659.59 L1035.20,661.69 L1036.41,663.86 L1037.63,666.11 L1038.85,668.41 L1040.07,670.77 L1041.29,673.18 L1042.51,675.64 L1043.72,678.14 L1044.94,680.67 L1046.16,683.22 L1047.38,685.80 L1048.60,688.39 L1049.82,690.98 L1051.03,693.58 L1052.25,696.17 L1053.47,698.75 L1054.69,701.31 L1055.91,703.84 L1057.13,706.35 L1058.34,708.81 L1059.56,711.24 L1060.78,713.61 L1062.00,715.92 L1063.22,718.18 L1064.44,720.36 L1065.66,722.48 L1066.87,724.52 L1068.09,726.47 L1069.31,728.33 L1070.53,730.11 L1071.75,731.78 L1072.97,733.36 L1074.18,734.82 L1075.40,736.18 L1076.62,737.43 L1077.84,738.56 L1079.06,739.58 L1080.28,740.47 L1081.49,741.24 L1082.71,741.88 L1083.93,742.40 L1085.15,742.79 L1086.37,743.06 L1087.59,743.19 L1088.80,743.19 L1090.02,743.06 L1091.24,742.81 L1092.46,742.42 L1093.68,741.91 L1094.90,741.27 L1096.11,740.50 L1097.33,739.61 L1098.55,738.60 L1099.77,737.48 L1100.99,736.23 L1102.21,734.88 L1103.43,733.41 L1104.64,731.84 L1105.86,730.17 L1107.08,728.40 L1108.30,726.54 L1109.52,724.59 L1110.74,722.56 L1111.95,720.44 L1113.17,718.26 L1114.39,716.01 L1115.61,713.69 L1116.83,711.32 L1118.05,708.90 L1119.26,706.44 L1120.48,703.94 L1121.70,701.40 L1122.92,698.84 L1124.14,696.27 L1125.36,693.68 L1126.57,691.08 L1127.79,688.48 L1129.01,685.89 L1130.23,683.32 L1131.45,680.76 L1132.67,678.23 L1133.89,675.73 L1135.10,673.27 L1136.32,670.86 L1137.54,668.50 L1138.76,666.19 L1139.98,663.95 L1141.20,661.77 L1142.41,659.67 L1143.63,657.65 L1144.85,655.71 L1146.07,653.86 L1147.29,652.10 L1148.51,650.44 L1149.72,648.89 L1150.94,647.44 L1152.16,646.10 L1153.38,644.87 L1154.60,643.75 L1155.82,642.76 L1157.03,641.89 L1158.25,641.14 L1159.47,640.52 L1160.69,640.02 L1161.91,639.65 L1163.13,639.41 L1164.34,639.30 L1165.56,639.32 L1166.78,639.47 L1168.00,639.75 L1169.22,640.15 L1170.44,640.69 L1171.66,641.35 L1172.87,642.14 L1174.09,643.05 L1175.31,644.08 L1176.53,645.22 L1177.75,646.49 L1178.97,647.86 L1180.18,649.34 L1181.40,650.93 L1182.62,652.62 L1183.84,654.40 L1185.06,656.28 L1186.28,658.24 L1187.49,660.29 L1188.71,662.41 L1189.93,664.61 L1191.15,666.87 L1192.37,669.20 L1193.59,671.58 L1194.80,674.00 L1196.02,676.48 L1197.24,678.98 L1198.46,681.52 L1199.68,684.08 L1200.90,686.67 L1202.11,689.26 L1203.33,691.86 L1204.55,694.45 L1205.77,697.04 L1206.99,699.61 L1208.21,702.16 L1209.43,704.69 L1210.64,707.18 L1211.86,709.63 L1213.08,712.04 L1214.30,714.39 L1215.52,716.69 L1216.74,718.92 L1217.95,721.08 L1219.17,723.17 L1220.39,725.18 L1221.61,727.11 L1222.83,728.94 L1224.05,730.68 L1225.26,732.32 L1226.48,733.86 L1227.70,735.29 L1228.92,736.62 L1230.14,737.82 L1231.36,738.92 L1232.57,739.89 L1233.79,740.74 L1235.01,741.47 L1236.23,742.07 L1237.45,742.55 L1238.67,742.90 L1239.89,743.11 L1241.10,743.20 L1242.32,743.16 L1243.54,742.99 L1244.76,742.69 L1245.98,742.26 L1247.20,741.70 L1248.41,741.02 L1249.63,740.22 L1250.85,739.29 L1252.07,738.24 L1253.29,737.07 L1254.51,735.79 L1255.72,734.40 L1256.94,732.89 L1258.16,731.29 L1259.38,729.59 L1260.60,727.78 L1261.82,725.89 L1263.03,723.91 L1264.25,721.85 L1265.47,719.72 L1266.69,717.51 L1267.91,715.24 L1269.13,712.90 L1270.34,710.52 L1271.56,708.08 L1272.78,705.60 L1274.00,703.09 L1275.22,700.55 L1276.44,697.98 L1277.66,695.40 L1278.87,692.80 L1280.09,690.20 L1281.31,687.61 L1282.53,685.02 L1283.75,682.45 L1284.97,679.91 L1286.18,677.39 L1287.40,674.90 L1288.62,672.46 L1289.84,670.06 L1291.06,667.71 L1292.28,665.43 L1293.49,663.21 L1294.71,661.06 L1295.93,658.98 L1297.15,656.99 L1298.37,655.08 L1299.59,653.26 L1300.80,651.53 L1302.02,649.91 L1303.24,648.39 L1304.46,646.97 L1305.68,645.67 L1306.90,644.48 L1308.11,643.41 L1309.33,642.45 L1310.55,641.62 L1311.77,640.92 L1312.99,640.33 L1314.21,639.88 L1315.43,639.55 L1316.64,639.36 L1317.86,639.29 L1319.08,639.35 L1320.30,639.55 L1321.52,639.87 L1322.74,640.32 L1323.95,640.90 L1325.17,641.60 L1326.39,642.43 L1327.61,643.38 L1328.83,644.45 L1330.05,645.63 L1331.26,646.93 L1332.48,648.35 L1333.70,649.86 L1334.92,651.49 L1336.14,653.21 L1337.36,655.02 L1338.57,656.93 L1339.79,658.92 L1341.01,661.00 L1342.23,663.15 L1343.45,665.36 L1344.67,667.65 L1345.89,669.99 L1347.10,672.39 L1348.32,674.83 L1349.54,677.31 L1350.76,679.83 L1351.98,682.38 L1353.20,684.95 L1354.41,687.54 L1355.63,690.13 L1356.85,692.73 L1358.07,695.32 L1359.29,697.91 L1360.51,700.47 L1361.72,703.02 L1362.94,705.53 L1364.16,708.01 L1365.38,710.45 L1366.60,712.84 L1367.82,715.17 L1369.03,717.45 L1370.25,719.66 L1371.47,721.80 L1372.69,723.86 L1373.91,725.84 L1375.13,727.73 L1376.34,729.54 L1377.56,731.24 L1378.78,732.85 L1380.00,734.35 L1381.22,735.75 L1382.44,737.04 L1383.66,738.21 L1384.87,739.26 L1386.09,740.19 L1387.31,741.00 L1388.53,741.69 L1389.75,742.25 L1390.97,742.68 L1392.18,742.98 L1393.40,743.16 L1394.62,743.20 L1395.84,743.12 L1397.06,742.90 L1398.28,742.56 L1399.49,742.09 L1400.71,741.49 L1401.93,740.76 L1403.15,739.92 L1404.37,738.95 L1405.59,737.86 L1406.80,736.65 L1408.02,735.33 L1409.24,733.90 L1410.46,732.37 L1411.68,730.73 L1412.90,728.99 L1414.11,727.16 L1415.33,725.24 L1416.55,723.23 L1417.77,721.14 L1418.99,718.98 L1420.21,716.75 L1421.43,714.46 L1422.64,712.11 L1423.86,709.70 L1425.08,707.25 L1426.30,704.76 L1427.52,702.24 L1428.74,699.68 L1429.95,697.11 L1431.17,694.52 L1432.39,691.93 L1433.61,689.33 L1434.83,686.74 L1436.05,684.16 L1437.26,681.59 L1438.48,679.05 L1439.70,676.55 L1440.92,674.07 L1442.14,671.64 L1443.36,669.26 L1444.57,666.94 L1445.79,664.67 L1447.01,662.48 L1448.23,660.35 L1449.45,658.30 L1450.67,656.33 L1451.89,654.45 L1453.10,652.67 L1454.32,650.98 L1455.54,649.39 L1456.76,647.90 L1457.98,646.52 L1459.20,645.26 L1460.41,644.11 L1461.63,643.07 L1462.85,642.16 L1464.07,641.37 L1465.29,640.71 L1466.51,640.17 L1467.72,639.76 L1468.94,639.47 L1470.16,639.32 L1471.38,639.30 L1472.60,639.41 L1473.82,639.64 L1475.03,640.01 L1476.25,640.50 L1477.47,641.12 L1478.69,641.87 L1479.91,642.73 L1481.13,643.73 L1482.34,644.83 L1483.56,646.06 L1484.78,647.40 L1486.00,648.84 L1487.22,650.40 L1488.44,652.05 L1489.66,653.81 L1490.87,655.65 L1492.09,657.59 L1493.31,659.61 L1494.53,661.71 L1495.75,663.88 L1496.97,666.13 L1498.18,668.43 L1499.40,670.79 L1500.62,673.20 L1501.84,675.66 L1503.06,678.16 L1504.28,680.69 L1505.49,683.24 L1506.71,685.82 L1507.93,688.41 L1509.15,691.00 L1510.37,693.60 L1511.59,696.19 L1512.80,698.77 L1514.02,701.33 L1515.24,703.87 L1516.46,706.37 L1517.68,708.84 L1518.90,711.26 L1520.11,713.63" stroke="#000000" stroke-dasharray="18 25.66"/>
<path d="M301.72,578.25 L302.94,579.37 L304.16,580.76 L305.38,582.41 L306.60,584.32 L307.82,586.49 L309.03,588.91 L310.25,591.57 L311.47,594.47 L312.69,597.60 L313.91,600.95 L315.13,604.52 L316.34,608.29 L317.56,612.25 L318.78,616.40 L320.00,620.73 L321.22,625.22 L322.44,629.87 L323.66,634.65 L324.87,639.57 L326.09,644.60 L327.31,649.74 L328.53,654.97 L329.75,660.28 L330.97,665.65 L332.18,671.08 L333.40,676.55 L334.62,682.04 L335.84,687.54 L337.06,693.04 L338.28,698.52 L339.49,703.97 L340.71,709.38 L341.93,714.73 L343.15,720.01 L344.37,725.21 L345.59,730.31 L346.80,735.30 L348.02,740.17 L349.24,744.91 L350.46,749.50 L351.68,753.93 L352.90,758.20 L354.11,762.28 L355.33,766.18 L356.55,769.87 L357.77,773.36 L358.99,776.63 L360.21,779.68 L361.43,782.49 L362.64,785.06 L363.86,787.39 L365.08,789.46 L366.30,791.28 L367.52,792.83 L368.74,794.12 L369.95,795.14 L371.17,795.89 L372.39,796.37 L373.61,796.57 L374.83,796.50 L376.05,796.15 L377.26,795.53 L378.48,794.63 L379.70,793.47 L380.92,792.03 L382.14,790.34 L383.36,788.38 L384.57,786.17 L385.79,783.71 L387.01,781.01 L388.23,778.07 L389.45,774.90 L390.67,771.51 L391.89,767.91 L393.10,764.11 L394.32,760.11 L395.54,755.93 L396.76,751.57 L397.98,747.06 L399.20,742.39 L400.41,737.58 L401.63,732.64 L402.85,727.59 L404.07,722.44 L405.29,717.19 L406.51,711.87 L407.72,706.49 L408.94,701.05 L410.16,695.58 L411.38,690.09 L412.60,684.59 L413.82,679.09 L415.03,673.61 L416.25,668.17 L417.47,662.76 L418.69,657.42 L419.91,652.16 L421.13,646.97 L422.34,641.89 L423.56,636.92 L424.78,632.07 L426.00,627.36 L427.22,622.79 L428.44,618.39 L429.66,614.16 L430.87,610.10 L432.09,606.24 L433.31,602.58 L434.53,599.13 L435.75,595.89 L436.97,592.89 L438.18,590.11 L439.40,587.58 L440.62,585.30 L441.84,583.26 L443.06,581.49 L444.28,579.98 L445.49,578.74 L446.71,577.76 L447.93,577.06 L449.15,576.63 L450.37,576.47 L451.59,576.59 L452.80,576.99 L454.02,577.66 L455.24,578.60 L456.46,579.81 L457.68,581.28 L458.90,583.02 L460.11,585.02 L461.33,587.28 L462.55,589.78 L463.77,592.52 L464.99,595.50 L466.21,598.70 L467.43,602.13 L468.64,605.76 L469.86,609.60 L471.08,613.63 L472.30,617.84 L473.52,622.22 L474.74,626.77 L475.95,631.46 L477.17,636.29 L478.39,641.25 L479.61,646.32 L480.83,651.49 L482.05,656.75 L483.26,662.08 L484.48,667.47 L485.70,672.92 L486.92,678.39 L488.14,683.89 L489.36,689.39 L490.57,694.88 L491.79,700.36 L493.01,705.80 L494.23,711.19 L495.45,716.52 L496.67,721.77 L497.89,726.94 L499.10,732.00 L500.32,736.96 L501.54,741.78 L502.76,746.47 L503.98,751.01 L505.20,755.38 L506.41,759.59 L507.63,763.61 L508.85,767.44 L510.07,771.07 L511.29,774.48 L512.51,777.68 L513.72,780.65 L514.94,783.38 L516.16,785.87 L517.38,788.11 L518.60,790.10 L519.82,791.83 L521.03,793.30 L522.25,794.50 L523.47,795.43 L524.69,796.08 L525.91,796.47 L527.13,796.58 L528.34,796.41 L529.56,795.97 L530.78,795.26 L532.00,794.27 L533.22,793.01 L534.44,791.49 L535.66,789.71 L536.87,787.67 L538.09,785.37 L539.31,782.83 L540.53,780.05 L541.75,777.03 L542.97,773.79 L544.18,770.33 L545.40,766.66 L546.62,762.79 L547.84,758.73 L549.06,754.48 L550.28,750.07 L551.49,745.50 L552.71,740.79 L553.93,735.93 L555.15,730.96 L556.37,725.87 L557.59,720.68 L558.80,715.41 L560.02,710.07 L561.24,704.66 L562.46,699.22 L563.68,693.74 L564.90,688.24 L566.11,682.74 L567.33,677.24 L568.55,671.78 L569.77,666.34 L570.99,660.96 L572.21,655.64 L573.43,650.40 L574.64,645.25 L575.86,640.20 L577.08,635.27 L578.30,630.47 L579.52,625.81 L580.74,621.29 L581.95,616.95 L583.17,612.77 L584.39,608.78 L585.61,604.99 L586.83,601.39 L588.05,598.01 L589.26,594.86 L590.48,591.93 L591.70,589.23 L592.92,586.78 L594.14,584.58 L595.36,582.64 L596.57,580.95 L597.79,579.53 L599.01,578.38 L600.23,577.49 L601.45,576.88 L602.67,576.54 L603.89,576.48 L605.10,576.69 L606.32,577.18 L607.54,577.94 L608.76,578.97 L609.98,580.27 L611.20,581.84 L612.41,583.67 L613.63,585.75 L614.85,588.09 L616.07,590.67 L617.29,593.49 L618.51,596.55 L619.72,599.83 L620.94,603.33 L622.16,607.03 L623.38,610.93 L624.60,615.03 L625.82,619.30 L627.03,623.73 L628.25,628.33 L629.47,633.07 L630.69,637.95 L631.91,642.94 L633.13,648.05 L634.34,653.25 L635.56,658.53 L636.78,663.89 L638.00,669.30 L639.22,674.75 L640.44,680.24 L641.66,685.74 L642.87,691.24 L644.09,696.73 L645.31,702.19 L646.53,707.62 L647.75,712.99 L648.97,718.29 L650.18,723.52 L651.40,728.65 L652.62,733.68 L653.84,738.59 L655.06,743.37 L656.28,748.01 L657.49,752.50 L658.71,756.82 L659.93,760.96 L661.15,764.92 L662.37,768.68 L663.59,772.24 L664.80,775.58 L666.02,778.70 L667.24,781.59 L668.46,784.25 L669.68,786.65 L670.90,788.81 L672.11,790.71 L673.33,792.35 L674.55,793.73 L675.77,794.84 L676.99,795.68 L678.21,796.24 L679.43,796.54 L680.64,796.55 L681.86,796.29 L683.08,795.76 L684.30,794.95 L685.52,793.88 L686.74,792.53 L687.95,790.92 L689.17,789.05 L690.39,786.92 L691.61,784.54 L692.83,781.92 L694.05,779.06 L695.26,775.96 L696.48,772.65 L697.70,769.12 L698.92,765.38 L700.14,761.44 L701.36,757.32 L702.57,753.02 L703.79,748.55 L705.01,743.93 L706.23,739.17 L707.45,734.27 L708.67,729.26 L709.89,724.13 L711.10,718.92 L712.32,713.62 L713.54,708.26 L714.76,702.84 L715.98,697.38 L717.20,691.89 L718.41,686.39 L719.63,680.89 L720.85,675.40 L722.07,669.94 L723.29,664.53 L724.51,659.17 L725.72,653.87 L726.94,648.66 L728.16,643.54 L729.38,638.53 L730.60,633.64 L731.82,628.89 L733.03,624.27 L734.25,619.81 L735.47,615.52 L736.69,611.41 L737.91,607.48 L739.13,603.75 L740.34,600.23 L741.56,596.93 L742.78,593.84 L744.00,590.99 L745.22,588.38 L746.44,586.02 L747.66,583.90 L748.87,582.04 L750.09,580.45 L751.31,579.11 L752.53,578.05 L753.75,577.26 L754.97,576.74 L756.18,576.49 L757.40,576.52 L758.62,576.83 L759.84,577.41 L761.06,578.26 L762.28,579.38 L763.49,580.77 L764.71,582.43 L765.93,584.34 L767.15,586.51 L768.37,588.93 L769.59,591.59 L770.80,594.50 L772.02,597.63 L773.24,600.98 L774.46,604.55 L775.68,608.32 L776.90,612.29 L778.11,616.44 L779.33,620.77 L780.55,625.26 L781.77,629.91 L782.99,634.70 L784.21,639.61 L785.43,644.65 L786.64,649.79 L787.86,655.02 L789.08,660.33 L790.30,665.70 L791.52,671.13 L792.74,676.59 L793.95,682.09 L795.17,687.59 L796.39,693.09 L797.61,698.57 L798.83,704.02 L800.05,709.43 L801.26,714.78 L802.48,720.06 L803.70,725.26 L804.92,730.36 L806.14,735.35 L807.36,740.22 L808.57,744.95 L809.79,749.54 L811.01,753.97 L812.23,758.23 L813.45,762.32 L814.67,766.21 L815.89,769.90 L817.10,773.39 L818.32,776.66 L819.54,779.70 L820.76,782.51 L821.98,785.08 L823.20,787.41 L824.41,789.48 L825.63,791.29 L826.85,792.85 L828.07,794.13 L829.29,795.15 L830.51,795.90 L831.72,796.37 L832.94,796.57 L834.16,796.50 L835.38,796.14 L836.60,795.52 L837.82,794.62 L839.03,793.45 L840.25,792.02 L841.47,790.32 L842.69,788.36 L843.91,786.15 L845.13,783.69 L846.34,780.98 L847.56,778.04 L848.78,774.87 L850.00,771.48 L851.22,767.88 L852.44,764.08 L853.66,760.08 L854.87,755.89 L856.09,751.54 L857.31,747.02 L858.53,742.35 L859.75,737.54 L860.97,732.60 L862.18,727.54 L863.40,722.39 L864.62,717.14 L865.84,711.82 L867.06,706.44 L868.28,701.00 L869.49,695.53 L870.71,690.04 L871.93,684.54 L873.15,679.04 L874.37,673.56 L875.59,668.12 L876.80,662.72 L878.02,657.38 L879.24,652.11 L880.46,646.93 L881.68,641.84 L882.90,636.87 L884.11,632.03 L885.33,627.32 L886.55,622.75 L887.77,618.35 L888.99,614.12 L890.21,610.07 L891.43,606.21 L892.64,602.55 L893.86,599.10 L895.08,595.86 L896.30,592.86 L897.52,590.09 L898.74,587.56 L899.95,585.28 L901.17,583.25 L902.39,581.48 L903.61,579.97 L904.83,578.73 L906.05,577.75 L907.26,577.05 L908.48,576.62 L909.70,576.47 L910.92,576.59 L912.14,576.99 L913.36,577.66 L914.57,578.61 L915.79,579.82 L917.01,581.30 L918.23,583.04 L919.45,585.04 L920.67,587.30 L921.89,589.80 L923.10,592.54 L924.32,595.52 L925.54,598.73 L926.76,602.16 L927.98,605.79 L929.20,609.63 L930.41,613.67 L931.63,617.88 L932.85,622.26 L934.07,626.81 L935.29,631.50 L936.51,636.34 L937.72,641.29 L938.94,646.37 L940.16,651.54 L941.38,656.80 L942.60,662.13 L943.82,667.52 L945.03,672.96 L946.25,678.44 L947.47,683.93 L948.69,689.44 L949.91,694.93 L951.13,700.41 L952.34,705.84 L953.56,711.24 L954.78,716.56 L956.00,721.82 L957.22,726.98 L958.44,732.05 L959.66,737.00 L960.87,741.82 L962.09,746.51 L963.31,751.05 L964.53,755.42 L965.75,759.63 L966.97,763.65 L968.18,767.47 L969.40,771.10 L970.62,774.51 L971.84,777.71 L973.06,780.67 L974.28,783.40 L975.49,785.89 L976.71,788.13 L977.93,790.12 L979.15,791.85 L980.37,793.31 L981.59,794.51 L982.80,795.43 L984.02,796.09 L985.24,796.47 L986.46,796.58 L987.68,796.41 L988.90,795.96 L990.11,795.25 L991.33,794.26 L992.55,793.00 L993.77,791.48 L994.99,789.69 L996.21,787.65 L997.43,785.35 L998.64,782.81 L999.86,780.02 L1001.08,777.00 L1002.30,773.76 L1003.52,770.30 L1004.74,766.62 L1005.95,762.75 L1007.17,758.69 L1008.39,754.45 L1009.61,750.03 L1010.83,745.46 L1012.05,740.74 L1013.26,735.89 L1014.48,730.91 L1015.70,725.82 L1016.92,720.64 L1018.14,715.36 L1019.36,710.02 L1020.57,704.62 L1021.79,699.17 L1023.01,693.69 L1024.23,688.19 L1025.45,682.69 L1026.67,677.20 L1027.89,671.73 L1029.10,666.30 L1030.32,660.91 L1031.54,655.60 L1032.76,650.36 L1033.98,645.21 L1035.20,640.16 L1036.41,635.23 L1037.63,630.43 L1038.85,625.77 L1040.07,621.26 L1041.29,616.91 L1042.51,612.74 L1043.72,608.75 L1044.94,604.95 L1046.16,601.36 L1047.38,597.98 L1048.60,594.83 L1049.82,591.90 L1051.03,589.21 L1052.25,586.76 L1053.47,584.57 L1054.69,582.62 L1055.91,580.94 L1057.13,579.52 L1058.34,578.37 L1059.56,577.49 L1060.78,576.88 L1062.00,576.54 L1063.22,576.48 L1064.44,576.70 L1065.66,577.19 L1066.87,577.95 L1068.09,578.98 L1069.31,580.29 L1070.53,581.85 L1071.75,583.68 L1072.97,585.77 L1074.18,588.11 L1075.40,590.70 L1076.62,593.52 L1077.84,596.58 L1079.06,599.86 L1080.28,603.36 L1081.49,607.06 L1082.71,610.97 L1083.93,615.06 L1085.15,619.33 L1086.37,623.77 L1087.59,628.37 L1088.80,633.11 L1090.02,637.99 L1091.24,642.99 L1092.46,648.09 L1093.68,653.30 L1094.90,658.58 L1096.11,663.94 L1097.33,669.35 L1098.55,674.80 L1099.77,680.29 L1100.99,685.79 L1102.21,691.29 L1103.43,696.78 L1104.64,702.24 L1105.86,707.66 L1107.08,713.04 L1108.30,718.34 L1109.52,723.57 L1110.74,728.70 L1111.95,733.73 L1113.17,738.64 L1114.39,743.42 L1115.61,748.05 L1116.83,752.54 L1118.05,756.86 L1119.26,761.00 L1120.48,764.96 L1121.70,768.72 L1122.92,772.27 L1124.14,775.61 L1125.36,778.73 L1126.57,781.62 L1127.79,784.27 L1129.01,786.67 L1130.23,788.83 L1131.45,790.73 L1132.67,792.37 L1133.89,793.74 L1135.10,794.85 L1136.32,795.69 L1137.54,796.25 L1138.76,796.54 L1139.98,796.55 L1141.20,796.29 L1142.41,795.75 L1143.63,794.95 L1144.85,793.87 L1146.07,792.52 L1147.29,790.91 L1148.51,789.03 L1149.72,786.90 L1150.94,784.52 L1152.16,781.90 L1153.38,779.03 L1154.60,775.94 L1155.82,772.62 L1157.03,769.08 L1158.25,765.34 L1159.47,761.41 L1160.69,757.28 L1161.91,752.98 L1163.13,748.51 L1164.34,743.89 L1165.56,739.12 L1166.78,734.23 L1168.00,729.21 L1169.22,724.09 L1170.44,718.87 L1171.66,713.57 L1172.87,708.21 L1174.09,702.79 L1175.31,697.33 L1176.53,691.84 L1177.75,686.34 L1178.97,680.84 L1180.18,675.35 L1181.40,669.90 L1182.62,664.48 L1183.84,659.12 L1185.06,653.82 L1186.28,648.61 L1187.49,643.50 L1188.71,638.49 L1189.93,633.60 L1191.15,628.84 L1192.37,624.23 L1193.59,619.77 L1194.80,615.48 L1196.02,611.37 L1197.24,607.45 L1198.46,603.72 L1199.68,600.20 L1200.90,596.90 L1202.11,593.82 L1203.33,590.97 L1204.55,588.36 L1205.77,586.00 L1206.99,583.88 L1208.21,582.03 L1209.43,580.43 L1210.64,579.10 L1211.86,578.04 L1213.08,577.25 L1214.30,576.73 L1215.52,576.49 L1216.74,576.52 L1217.95,576.83 L1219.17,577.41 L1220.39,578.27 L1221.61,579.39 L1222.83,580.78 L1224.05,582.44 L1225.26,584.36 L1226.48,586.53 L1227.70,588.95 L1228.92,591.62 L1230.14,594.52 L1231.36,597.66 L1232.57,601.01 L1233.79,604.58 L1235.01,608.36 L1236.23,612.32 L1237.45,616.48 L1238.67,620.81 L1239.89,625.30 L1241.10,629.95 L1242.32,634.74 L1243.54,639.66 L1244.76,644.69 L1245.98,649.83 L1247.20,655.06 L1248.41,660.37 L1249.63,665.75 L1250.85,671.18 L1252.07,676.64 L1253.29,682.13 L1254.51,687.64 L1255.72,693.13 L1256.94,698.62 L1258.16,704.07 L1259.38,709.48 L1260.60,714.83 L1261.82,720.11 L1263.03,725.30 L1264.25,730.40 L1265.47,735.39 L1266.69,740.26 L1267.91,744.99 L1269.13,749.58 L1270.34,754.01 L1271.56,758.27 L1272.78,762.35 L1274.00,766.24 L1275.22,769.93 L1276.44,773.42 L1277.66,776.69 L1278.87,779.73 L1280.09,782.54 L1281.31,785.10 L1282.53,787.43 L1283.75,789.50 L1284.97,791.31 L1286.18,792.86 L1287.40,794.14 L1288.62,795.16 L1289.84,795.90 L1291.06,796.38 L1292.28,796.57 L1293.49,796.49 L1294.71,796.14 L1295.93,795.51 L1297.15,794.61 L1298.37,793.44 L1299.59,792.01 L1300.80,790.30 L1302.02,788.34 L1303.24,786.13 L1304.46,783.67 L1305.68,780.96 L1306.90,778.02 L1308.11,774.84 L1309.33,771.45 L1310.55,767.85 L1311.77,764.04 L1312.99,760.04 L1314.21,755.85 L1315.43,751.50 L1316.64,746.98 L1317.86,742.30 L1319.08,737.49 L1320.30,732.55 L1321.52,727.50 L1322.74,722.34 L1323.95,717.10 L1325.17,711.78 L1326.39,706.39 L1327.61,700.96 L1328.83,695.48 L1330.05,689.99 L1331.26,684.49 L1332.48,678.99 L1333.70,673.51 L1334.92,668.07 L1336.14,662.67 L1337.36,657.33 L1338.57,652.06 L1339.79,646.88 L1341.01,641.80 L1342.23,636.83 L1343.45,631.98 L1344.67,627.28 L1345.89,622.71 L1347.10,618.31 L1348.32,614.08 L1349.54,610.03 L1350.76,606.17 L1351.98,602.51 L1353.20,599.07 L1354.41,595.84 L1355.63,592.83 L1356.85,590.07 L1358.07,587.54 L1359.29,585.26 L1360.51,583.23 L1361.72,581.46 L1362.94,579.96 L1364.16,578.72 L1365.38,577.75 L1366.60,577.05 L1367.82,576.62 L1369.03,576.47 L1370.25,576.60 L1371.47,577.00 L1372.69,577.67 L1373.91,578.62 L1375.13,579.83 L1376.34,581.31 L1377.56,583.06 L1378.78,585.06 L1380.00,587.32 L1381.22,589.82 L1382.44,592.57 L1383.66,595.55 L1384.87,598.76 L1386.09,602.19 L1387.31,605.83 L1388.53,609.67 L1389.75,613.70 L1390.97,617.92 L1392.18,622.30 L1393.40,626.85 L1394.62,631.55 L1395.84,636.38 L1397.06,641.34 L1398.28,646.41 L1399.49,651.58 L1400.71,656.84 L1401.93,662.18 L1403.15,667.57 L1404.37,673.01 L1405.59,678.49 L1406.80,683.98 L1408.02,689.49 L1409.24,694.98 L1410.46,700.45 L1411.68,705.89 L1412.90,711.28 L1414.11,716.61 L1415.33,721.86 L1416.55,727.03 L1417.77,732.09 L1418.99,737.04 L1420.21,741.87 L1421.43,746.55 L1422.64,751.09 L1423.86,755.46 L1425.08,759.66 L1426.30,763.68 L1427.52,767.51 L1428.74,771.13 L1429.95,774.54 L1431.17,777.73 L1432.39,780.70 L1433.61,783.43 L1434.83,785.91 L1436.05,788.15 L1437.26,790.14 L1438.48,791.86 L1439.70,793.32 L1440.92,794.52 L1442.14,795.44 L1443.36,796.09 L1444.57,796.47 L1445.79,796.58 L1447.01,796.41 L1448.23,795.96 L1449.45,795.24 L1450.67,794.25 L1451.89,792.99 L1453.10,791.46 L1454.32,789.67 L1455.54,787.63 L1456.76,785.33 L1457.98,782.78 L1459.20,780.00 L1460.41,776.97 L1461.63,773.73 L1462.85,770.26 L1464.07,766.59 L1465.29,762.72 L1466.51,758.65 L1467.72,754.41 L1468.94,749.99 L1470.16,745.42 L1471.38,740.70 L1472.60,735.84 L1473.82,730.87 L1475.03,725.78 L1476.25,720.59 L1477.47,715.32 L1478.69,709.97 L1479.91,704.57 L1481.13,699.12 L1482.34,693.64 L1483.56,688.14 L1484.78,682.64 L1486.00,677.15 L1487.22,671.68 L1488.44,666.25 L1489.66,660.87 L1490.87,655.55 L1492.09,650.31 L1493.31,645.16 L1494.53,640.12 L1495.75,635.19 L1496.97,630.39 L1498.18,625.72 L1499.40,621.22 L1500.62,616.87 L1501.84,612.70 L1503.06,608.71 L1504.28,604.92 L1505.49,601.33 L1506.71,597.96 L1507.93,594.80 L1509.15,591.88 L1510.37,589.19 L1511.59,586.74 L1512.80,584.55 L1514.02,582.61 L1515.24,580.93 L1516.46,579.51 L1517.68,578.36 L1518.90,577.48 L1520.11,576.87" stroke="#00cc00" stroke-dasharray="18 25.91"/>
<path d="M301.72,906.46 L302.94,913.51 L304.16,919.95 L305.38,925.77 L306.60,930.96 L307.82,935.50 L309.03,939.38 L310.25,942.60 L311.47,945.14 L312.69,947.00 L313.91,948.17 L315.13,948.66 L316.34,948.45 L317.56,947.55 L318.78,945.97 L320.00,943.70 L321.22,940.75 L322.44,937.13 L323.66,932.85 L324.87,927.92 L326.09,922.35 L327.31,916.16 L328.53,909.35 L329.75,901.96 L330.97,893.99 L332.18,885.46 L333.40,876.40 L334.62,866.84 L335.84,856.78 L337.06,846.27 L338.28,835.32 L339.49,823.97 L340.71,812.23 L341.93,800.15 L343.15,787.74 L344.37,775.05 L345.59,762.10 L346.80,748.93 L348.02,735.56 L349.24,722.04 L350.46,708.39 L351.68,694.66 L352.90,680.86 L354.11,667.05 L355.33,653.25 L356.55,639.50 L357.77,625.82 L358.99,612.27 L360.21,598.87 L361.43,585.64 L362.64,572.64 L363.86,559.89 L365.08,547.41 L366.30,535.25 L367.52,523.43 L368.74,511.99 L369.95,500.94 L371.17,490.32 L372.39,480.16 L373.61,470.48 L374.83,461.30 L376.05,452.65 L377.26,444.55 L378.48,437.02 L379.70,430.08 L380.92,423.74 L382.14,418.02 L383.36,412.94 L384.57,408.51 L385.79,404.74 L387.01,401.64 L388.23,399.21 L389.45,397.46 L390.67,396.41 L391.89,396.04 L393.10,396.36 L394.32,397.38 L395.54,399.08 L396.76,401.46 L397.98,404.52 L399.20,408.25 L400.41,412.64 L401.63,417.68 L402.85,423.36 L404.07,429.66 L405.29,436.56 L406.51,444.05 L407.72,452.12 L408.94,460.73 L410.16,469.88 L411.38,479.53 L412.60,489.66 L413.82,500.25 L415.03,511.27 L416.25,522.69 L417.47,534.49 L418.69,546.63 L419.91,559.08 L421.13,571.82 L422.34,584.81 L423.56,598.02 L424.78,611.41 L426.00,624.96 L427.22,638.62 L428.44,652.37 L429.66,666.17 L430.87,679.98 L432.09,693.78 L433.31,707.52 L434.53,721.17 L435.75,734.71 L436.97,748.08 L438.18,761.27 L439.40,774.23 L440.62,786.94 L441.84,799.37 L443.06,811.47 L444.28,823.23 L445.49,834.61 L446.71,845.59 L447.93,856.13 L449.15,866.21 L450.37,875.81 L451.59,884.90 L452.80,893.46 L454.02,901.47 L455.24,908.90 L456.46,915.74 L457.68,921.98 L458.90,927.59 L460.11,932.56 L461.33,936.88 L462.55,940.54 L463.77,943.53 L464.99,945.84 L466.21,947.47 L467.43,948.41 L468.64,948.66 L469.86,948.22 L471.08,947.10 L472.30,945.28 L473.52,942.78 L474.74,939.61 L475.95,935.77 L477.17,931.27 L478.39,926.12 L479.61,920.34 L480.83,913.94 L482.05,906.93 L483.26,899.34 L484.48,891.18 L485.70,882.47 L486.92,873.24 L488.14,863.51 L489.36,853.30 L490.57,842.64 L491.79,831.55 L493.01,820.06 L494.23,808.20 L495.45,796.01 L496.67,783.50 L497.89,770.72 L499.10,757.69 L500.32,744.45 L501.54,731.03 L502.76,717.46 L503.98,703.78 L505.20,690.02 L506.41,676.22 L507.63,662.40 L508.85,648.62 L510.07,634.89 L511.29,621.25 L512.51,607.74 L513.72,594.40 L514.94,581.25 L516.16,568.32 L517.38,555.66 L518.60,543.29 L519.82,531.24 L521.03,519.54 L522.25,508.22 L523.47,497.32 L524.69,486.85 L525.91,476.85 L527.13,467.33 L528.34,458.33 L529.56,449.87 L530.78,441.95 L532.00,434.62 L533.22,427.88 L534.44,421.75 L535.66,416.24 L536.87,411.38 L538.09,407.17 L539.31,403.62 L540.53,400.74 L541.75,398.55 L542.97,397.03 L544.18,396.21 L545.40,396.07 L546.62,396.63 L547.84,397.87 L549.06,399.80 L550.28,402.41 L551.49,405.70 L552.71,409.65 L553.93,414.26 L555.15,419.52 L556.37,425.41 L557.59,431.91 L558.80,439.02 L560.02,446.70 L561.24,454.96 L562.46,463.75 L563.68,473.07 L564.90,482.88 L566.11,493.17 L567.33,503.91 L568.55,515.07 L569.77,526.62 L570.99,538.53 L572.21,550.78 L573.43,563.34 L574.64,576.16 L575.86,589.23 L577.08,602.50 L578.30,615.95 L579.52,629.54 L580.74,643.24 L581.95,657.01 L583.17,670.81 L584.39,684.63 L585.61,698.41 L586.83,712.12 L588.05,725.74 L589.26,739.22 L590.48,752.54 L591.70,765.65 L592.92,778.54 L594.14,791.15 L595.36,803.47 L596.57,815.47 L597.79,827.10 L599.01,838.35 L600.23,849.18 L601.45,859.57 L602.67,869.50 L603.89,878.93 L605.10,887.84 L606.32,896.21 L607.54,904.03 L608.76,911.27 L609.98,917.91 L611.20,923.93 L612.41,929.33 L613.63,934.08 L614.85,938.18 L616.07,941.62 L617.29,944.38 L618.51,946.47 L619.72,947.86 L620.94,948.57 L622.16,948.59 L623.38,947.92 L624.60,946.56 L625.82,944.52 L627.03,941.79 L628.25,938.39 L629.47,934.33 L630.69,929.61 L631.91,924.24 L633.13,918.25 L634.34,911.65 L635.56,904.44 L636.78,896.66 L638.00,888.31 L639.22,879.43 L640.44,870.03 L641.66,860.13 L642.87,849.76 L644.09,838.95 L645.31,827.73 L646.53,816.11 L647.75,804.14 L648.97,791.84 L650.18,779.24 L651.40,766.37 L652.62,753.26 L653.84,739.96 L655.06,726.48 L656.28,712.87 L657.49,699.16 L658.71,685.38 L659.93,671.57 L661.15,657.76 L662.37,643.99 L663.59,630.29 L664.80,616.69 L666.02,603.24 L667.24,589.95 L668.46,576.87 L669.68,564.03 L670.90,551.46 L672.11,539.20 L673.33,527.26 L674.55,515.69 L675.77,504.51 L676.99,493.75 L678.21,483.44 L679.43,473.59 L680.64,464.25 L681.86,455.42 L683.08,447.14 L684.30,439.42 L685.52,432.28 L686.74,425.75 L687.95,419.83 L689.17,414.54 L690.39,409.89 L691.61,405.90 L692.83,402.58 L694.05,399.93 L695.26,397.96 L696.48,396.68 L697.70,396.08 L698.92,396.18 L700.14,396.97 L701.36,398.45 L702.57,400.61 L703.79,403.45 L705.01,406.96 L706.23,411.13 L707.45,415.96 L708.67,421.43 L709.89,427.53 L711.10,434.23 L712.32,441.54 L713.54,449.42 L714.76,457.85 L715.98,466.83 L717.20,476.32 L718.41,486.29 L719.63,496.73 L720.85,507.62 L722.07,518.91 L723.29,530.59 L724.51,542.62 L725.72,554.97 L726.94,567.62 L728.16,580.53 L729.38,593.67 L730.60,607.01 L731.82,620.51 L733.03,634.14 L734.25,647.86 L735.47,661.65 L736.69,675.46 L737.91,689.27 L739.13,703.03 L740.34,716.72 L741.56,730.29 L742.78,743.72 L744.00,756.97 L745.22,770.01 L746.44,782.81 L747.66,795.33 L748.87,807.54 L750.09,819.42 L751.31,830.93 L752.53,842.04 L753.75,852.73 L754.97,862.96 L756.18,872.72 L757.40,881.98 L758.62,890.72 L759.84,898.91 L761.06,906.53 L762.28,913.57 L763.49,920.00 L764.71,925.82 L765.93,931.00 L767.15,935.54 L768.37,939.41 L769.59,942.63 L770.80,945.16 L772.02,947.01 L773.24,948.18 L774.46,948.66 L775.68,948.44 L776.90,947.54 L778.11,945.95 L779.33,943.67 L780.55,940.72 L781.77,937.10 L782.99,932.81 L784.21,927.87 L785.43,922.30 L786.64,916.10 L787.86,909.29 L789.08,901.89 L790.30,893.91 L791.52,885.38 L792.74,876.32 L793.95,866.75 L795.17,856.69 L796.39,846.18 L797.61,835.22 L798.83,823.86 L800.05,812.13 L801.26,800.04 L802.48,787.63 L803.70,774.94 L804.92,761.99 L806.14,748.81 L807.36,735.44 L808.57,721.92 L809.79,708.27 L811.01,694.53 L812.23,680.74 L813.45,666.93 L814.67,653.13 L815.89,639.37 L817.10,625.70 L818.32,612.15 L819.54,598.75 L820.76,585.53 L821.98,572.53 L823.20,559.77 L824.41,547.30 L825.63,535.14 L826.85,523.33 L828.07,511.89 L829.29,500.84 L830.51,490.23 L831.72,480.07 L832.94,470.39 L834.16,461.22 L835.38,452.58 L836.60,444.48 L837.82,436.96 L839.03,430.02 L840.25,423.69 L841.47,417.98 L842.69,412.90 L843.91,408.48 L845.13,404.71 L846.34,401.61 L847.56,399.19 L848.78,397.45 L850.00,396.40 L851.22,396.04 L852.44,396.37 L853.66,397.39 L854.87,399.10 L856.09,401.49 L857.31,404.55 L858.53,408.29 L859.75,412.68 L860.97,417.73 L862.18,423.41 L863.40,429.71 L864.62,436.62 L865.84,444.12 L867.06,452.19 L868.28,460.81 L869.49,469.96 L870.71,479.62 L871.93,489.75 L873.15,500.35 L874.37,511.37 L875.59,522.79 L876.80,534.59 L878.02,546.74 L879.24,559.19 L880.46,571.93 L881.68,584.93 L882.90,598.14 L884.11,611.53 L885.33,625.08 L886.55,638.74 L887.77,652.49 L888.99,666.29 L890.21,680.11 L891.43,693.90 L892.64,707.64 L893.86,721.29 L895.08,734.83 L896.30,748.20 L897.52,761.38 L898.74,774.35 L899.95,787.05 L901.17,799.47 L902.39,811.58 L903.61,823.33 L904.83,834.71 L906.05,845.68 L907.26,856.22 L908.48,866.30 L909.70,875.89 L910.92,884.98 L912.14,893.53 L913.36,901.53 L914.57,908.96 L915.79,915.80 L917.01,922.03 L918.23,927.63 L919.45,932.60 L920.67,936.91 L921.89,940.57 L923.10,943.55 L924.32,945.86 L925.54,947.48 L926.76,948.42 L927.98,948.66 L929.20,948.22 L930.41,947.08 L931.63,945.26 L932.85,942.76 L934.07,939.58 L935.29,935.73 L936.51,931.22 L937.72,926.07 L938.94,920.28 L940.16,913.88 L941.38,906.87 L942.60,899.27 L943.82,891.11 L945.03,882.39 L946.25,873.16 L947.47,863.42 L948.69,853.21 L949.91,842.54 L951.13,831.45 L952.34,819.96 L953.56,808.10 L954.78,795.90 L956.00,783.39 L957.22,770.61 L958.44,757.58 L959.66,744.33 L960.87,730.91 L962.09,717.34 L963.31,703.66 L964.53,689.90 L965.75,676.10 L966.97,662.28 L968.18,648.49 L969.40,634.77 L970.62,621.13 L971.84,607.62 L973.06,594.28 L974.28,581.13 L975.49,568.21 L976.71,555.55 L977.93,543.18 L979.15,531.13 L980.37,519.44 L981.59,508.13 L982.80,497.23 L984.02,486.76 L985.24,476.76 L986.46,467.25 L987.68,458.25 L988.90,449.79 L990.11,441.89 L991.33,434.56 L992.55,427.82 L993.77,421.70 L994.99,416.20 L996.21,411.34 L997.43,407.13 L998.64,403.59 L999.86,400.72 L1001.08,398.53 L1002.30,397.02 L1003.52,396.20 L1004.74,396.07 L1005.95,396.64 L1007.17,397.89 L1008.39,399.82 L1009.61,402.44 L1010.83,405.73 L1012.05,409.69 L1013.26,414.31 L1014.48,419.57 L1015.70,425.46 L1016.92,431.97 L1018.14,439.08 L1019.36,446.77 L1020.57,455.03 L1021.79,463.83 L1023.01,473.15 L1024.23,482.97 L1025.45,493.27 L1026.67,504.01 L1027.89,515.17 L1029.10,526.72 L1030.32,538.64 L1031.54,550.89 L1032.76,563.45 L1033.98,576.28 L1035.20,589.35 L1036.41,602.62 L1037.63,616.07 L1038.85,629.66 L1040.07,643.36 L1041.29,657.13 L1042.51,670.94 L1043.72,684.75 L1044.94,698.53 L1046.16,712.24 L1047.38,725.86 L1048.60,739.34 L1049.82,752.66 L1051.03,765.77 L1052.25,778.65 L1053.47,791.26 L1054.69,803.58 L1055.91,815.57 L1057.13,827.20 L1058.34,838.45 L1059.56,849.28 L1060.78,859.66 L1062.00,869.58 L1063.22,879.01 L1064.44,887.92 L1065.66,896.29 L1066.87,904.10 L1068.09,911.33 L1069.31,917.96 L1070.53,923.98 L1071.75,929.37 L1072.97,934.12 L1074.18,938.22 L1075.40,941.65 L1076.62,944.41 L1077.84,946.48 L1079.06,947.87 L1080.28,948.58 L1081.49,948.59 L1082.71,947.91 L1083.93,946.55 L1085.15,944.49 L1086.37,941.76 L1087.59,938.36 L1088.80,934.29 L1090.02,929.56 L1091.24,924.19 L1092.46,918.20 L1093.68,911.59 L1094.90,904.38 L1096.11,896.59 L1097.33,888.24 L1098.55,879.35 L1099.77,869.94 L1100.99,860.04 L1102.21,849.67 L1103.43,838.86 L1104.64,827.63 L1105.86,816.01 L1107.08,804.03 L1108.30,791.73 L1109.52,779.12 L1110.74,766.25 L1111.95,753.15 L1113.17,739.84 L1114.39,726.36 L1115.61,712.75 L1116.83,699.04 L1118.05,685.26 L1119.26,671.45 L1120.48,657.64 L1121.70,643.87 L1122.92,630.17 L1124.14,616.57 L1125.36,603.12 L1126.57,589.83 L1127.79,576.76 L1129.01,563.92 L1130.23,551.35 L1131.45,539.09 L1132.67,527.16 L1133.89,515.59 L1135.10,504.41 L1136.32,493.66 L1137.54,483.35 L1138.76,473.51 L1139.98,464.17 L1141.20,455.35 L1142.41,447.07 L1143.63,439.36 L1144.85,432.22 L1146.07,425.69 L1147.29,419.78 L1148.51,414.49 L1149.72,409.85 L1150.94,405.87 L1152.16,402.55 L1153.38,399.91 L1154.60,397.95 L1155.82,396.67 L1157.03,396.08 L1158.25,396.19 L1159.47,396.98 L1160.69,398.46 L1161.91,400.63 L1163.13,403.47 L1164.34,406.99 L1165.56,411.17 L1166.78,416.01 L1168.00,421.48 L1169.22,427.58 L1170.44,434.30 L1171.66,441.60 L1172.87,449.49 L1174.09,457.93 L1175.31,466.91 L1176.53,476.40 L1177.75,486.38 L1178.97,496.83 L1180.18,507.71 L1181.40,519.01 L1182.62,530.69 L1183.84,542.72 L1185.06,555.08 L1186.28,567.73 L1187.49,580.65 L1188.71,593.79 L1189.93,607.13 L1191.15,620.63 L1192.37,634.26 L1193.59,647.98 L1194.80,661.77 L1196.02,675.58 L1197.24,689.39 L1198.46,703.15 L1199.68,716.84 L1200.90,730.41 L1202.11,743.84 L1203.33,757.09 L1204.55,770.13 L1205.77,782.92 L1206.99,795.44 L1208.21,807.65 L1209.43,819.52 L1210.64,831.03 L1211.86,842.14 L1213.08,852.82 L1214.30,863.05 L1215.52,872.81 L1216.74,882.06 L1217.95,890.79 L1219.17,898.98 L1220.39,906.59 L1221.61,913.63 L1222.83,920.06 L1224.05,925.87 L1225.26,931.04 L1226.48,935.57 L1227.70,939.45 L1228.92,942.65 L1230.14,945.18 L1231.36,947.03 L1232.57,948.19 L1233.79,948.66 L1235.01,948.44 L1236.23,947.53 L1237.45,945.93 L1238.67,943.65 L1239.89,940.69 L1241.10,937.06 L1242.32,932.77 L1243.54,927.83 L1244.76,922.25 L1245.98,916.04 L1247.20,909.23 L1248.41,901.82 L1249.63,893.84 L1250.85,885.31 L1252.07,876.24 L1253.29,866.66 L1254.51,856.60 L1255.72,846.08 L1256.94,835.12 L1258.16,823.76 L1259.38,812.02 L1260.60,799.93 L1261.82,787.52 L1263.03,774.82 L1264.25,761.87 L1265.47,748.69 L1266.69,735.32 L1267.91,721.80 L1269.13,708.15 L1270.34,694.41 L1271.56,680.62 L1272.78,666.80 L1274.00,653.00 L1275.22,639.25 L1276.44,625.58 L1277.66,612.03 L1278.87,598.63 L1280.09,585.41 L1281.31,572.41 L1282.53,559.66 L1283.75,547.19 L1284.97,535.04 L1286.18,523.23 L1287.40,511.79 L1288.62,500.75 L1289.84,490.14 L1291.06,479.98 L1292.28,470.31 L1293.49,461.14 L1294.71,452.50 L1295.93,444.41 L1297.15,436.89 L1298.37,429.96 L1299.59,423.63 L1300.80,417.93 L1302.02,412.86 L1303.24,408.44 L1304.46,404.68 L1305.68,401.59 L1306.90,399.17 L1308.11,397.44 L1309.33,396.40 L1310.55,396.04 L1311.77,396.38 L1312.99,397.40 L1314.21,399.11 L1315.43,401.51 L1316.64,404.58 L1317.86,408.32 L1319.08,412.73 L1320.30,417.78 L1321.52,423.46 L1322.74,429.77 L1323.95,436.69 L1325.17,444.19 L1326.39,452.27 L1327.61,460.89 L1328.83,470.05 L1330.05,479.70 L1331.26,489.85 L1332.48,500.44 L1333.70,511.47 L1334.92,522.90 L1336.14,534.70 L1337.36,546.85 L1338.57,559.31 L1339.79,572.05 L1341.01,585.04 L1342.23,598.25 L1343.45,611.65 L1344.67,625.20 L1345.89,638.87 L1347.10,652.62 L1348.32,666.41 L1349.54,680.23 L1350.76,694.02 L1351.98,707.76 L1353.20,721.42 L1354.41,734.94 L1355.63,748.32 L1356.85,761.50 L1358.07,774.46 L1359.29,787.17 L1360.51,799.58 L1361.72,811.68 L1362.94,823.44 L1364.16,834.81 L1365.38,845.78 L1366.60,856.31 L1367.82,866.39 L1369.03,875.98 L1370.25,885.06 L1371.47,893.61 L1372.69,901.60 L1373.91,909.03 L1375.13,915.86 L1376.34,922.08 L1377.56,927.68 L1378.78,932.64 L1380.00,936.95 L1381.22,940.60 L1382.44,943.58 L1383.66,945.88 L1384.87,947.49 L1386.09,948.42 L1387.31,948.66 L1388.53,948.21 L1389.75,947.07 L1390.97,945.24 L1392.18,942.73 L1393.40,939.55 L1394.62,935.69 L1395.84,931.18 L1397.06,926.02 L1398.28,920.23 L1399.49,913.82 L1400.71,906.80 L1401.93,899.20 L1403.15,891.03 L1404.37,882.31 L1405.59,873.07 L1406.80,863.33 L1408.02,853.11 L1409.24,842.44 L1410.46,831.35 L1411.68,819.85 L1412.90,807.99 L1414.11,795.79 L1415.33,783.28 L1416.55,770.49 L1417.77,757.46 L1418.99,744.22 L1420.21,730.79 L1421.43,717.22 L1422.64,703.54 L1423.86,689.78 L1425.08,675.97 L1426.30,662.16 L1427.52,648.37 L1428.74,634.64 L1429.95,621.01 L1431.17,607.50 L1432.39,594.16 L1433.61,581.01 L1434.83,568.09 L1436.05,555.44 L1437.26,543.07 L1438.48,531.03 L1439.70,519.34 L1440.92,508.03 L1442.14,497.13 L1443.36,486.67 L1444.57,476.68 L1445.79,467.17 L1447.01,458.18 L1448.23,449.72 L1449.45,441.82 L1450.67,434.49 L1451.89,427.76 L1453.10,421.64 L1454.32,416.15 L1455.54,411.30 L1456.76,407.10 L1457.98,403.56 L1459.20,400.70 L1460.41,398.51 L1461.63,397.01 L1462.85,396.20 L1464.07,396.08 L1465.29,396.64 L1466.51,397.90 L1467.72,399.84 L1468.94,402.47 L1470.16,405.77 L1471.38,409.73 L1472.60,414.35 L1473.82,419.62 L1475.03,425.52 L1476.25,432.03 L1477.47,439.15 L1478.69,446.85 L1479.91,455.11 L1481.13,463.91 L1482.34,473.24 L1483.56,483.06 L1484.78,493.36 L1486.00,504.10 L1487.22,515.27 L1488.44,526.83 L1489.66,538.75 L1490.87,551.00 L1492.09,563.56 L1493.31,576.39 L1494.53,589.46 L1495.75,602.74 L1496.97,616.19 L1498.18,629.78 L1499.40,643.48 L1500.62,657.25 L1501.84,671.06 L1503.06,684.87 L1504.28,698.65 L1505.49,712.37 L1506.71,725.98 L1507.93,739.46 L1509.15,752.77 L1510.37,765.89 L1511.59,778.76 L1512.80,791.38 L1514.02,803.69 L1515.24,815.68 L1516.46,827.30 L1517.68,838.54 L1518.90,849.37 L1520.11,859.75" stroke="#cc0000" stroke-dasharray="18 26.27"/>
</g>
<g fill="#000" shape-rendering="crispEdges">
<rect x="258" y="155" width="9" height="851"/>
<rect x="262" y="1000" width="1061" height="10"/>
<rect x="262" y="991" width="12" height="1"/>
<rect x="262" y="977" width="12" height="1"/>
<rect x="262" y="962" width="12" height="1"/>
<rect x="262" y="948" width="12" height="1"/>
<rect x="262" y="932" width="19" height="5"/>
<rect x="262" y="920" width="12" height="1"/>
<rect x="262" y="906" width="12" height="1"/>
<rect x="262" y="891" width="12" height="1"/>
<rect x="262" y="877" width="12" height="1"/>
<rect x="262" y="861" width="19" height="5"/>
<rect x="262" y="849" width="12" height="1"/>
<rect x="262" y="835" width="12" height="1"/>
<rect x="262" y="821" width="12" height="1"/>
<rect x="262" y="806" width="12" height="1"/>
<rect x="262" y="790" width="19" height="5"/>
<rect x="262" y="778" width="12" height="1"/>
<rect x="262" y="764" width="12" height="1"/>
<rect x="262" y="750" width="12" height="1"/>
<rect x="262" y="736" width="12" height="1"/>
<rect x="262" y="719" width="19" height="5"/>
<rect x="262" y="707" width="12" height="1"/>
<rect x="262" y="693" width="12" height="1"/>
<rect x="262" y="679" width="12" height="1"/>
<rect x="262" y="665" width="12" height="1"/>
<rect x="262" y="649" width="19" height="5"/>
<rect x="262" y="636" width="12" height="1"/>
<rect x="262" y="622" width="12" height="1"/>
<rect x="262" y="608" width="12" height="1"/>
<rect x="262" y="594" width="12" height="1"/>
<rect x="262" y="578" width="19" height="5"/>
<rect x="262" y="566" width="12" height="1"/>
<rect x="262" y="551" width="12" height="1"/>
<rect x="262" y="537" width="12" height="1"/>
<rect x="262" y="523" width="12" height="1"/>
<rect x="262" y="507" width="19" height="5"/>
<rect x="262" y="495" width="12" height="1"/>
<rect x="262" y="481" width="12" height="1"/>
<rect x="262" y="466" width="12" height="1"/>
<rect x="262" y="452" width="12" height="1"/>
<rect x="262" y="436" width="19" height="5"/>
<rect x="262" y="424" width="12" height="1"/>
<rect x="262" y="410" width="12" height="1"/>
<rect x="262" y="396" width="12" height="1"/>
<rect x="262" y="381" width="12" height="1"/>
<rect x="262" y="365" width="19" height="5"/>
<rect x="262" y="353" width="12" height="1"/>
<rect x="262" y="339" width="12" height="1"/>
<rect x="262" y="325" width="12" height="1"/>
<rect x="262" y="311" width="12" height="1"/>
<rect x="262" y="294" width="19" height="5"/>
<rect x="262" y="282" width="12" height="1"/>
<rect x="262" y="268" width="12" height="1"/>
<rect x="262" y="254" width="12" height="1"/>
<rect x="262" y="240" width="12" height="1"/>
<rect x="262" y="224" width="19" height="5"/>
<rect x="262" y="211" width="12" height="1"/>
<rect x="262" y="197" width="12" height="1"/>
<rect x="262" y="183" width="12" height="1"/>
<rect x="262" y="169" width="12" height="1"/>
<rect x="262" y="153" width="19" height="5"/>
<rect x="304" y="991" width="1" height="10"/>
<rect x="347" y="991" width="1" height="10"/>
<rect x="389" y="991" width="1" height="10"/>
<rect x="432" y="991" width="1" height="10"/>
<rect x="472" y="982" width="5" height="24"/>
<rect x="516" y="991" width="1" height="10"/>
<rect x="559" y="991" width="1" height="10"/>
<rect x="601" y="991" width="1" height="10"/>
<rect x="644" y="991" width="1" height="10"/>
<rect x="684" y="982" width="5" height="24"/>
<rect x="728" y="991" width="1" height="10"/>
<rect x="771" y="991" width="1" height="10"/>
<rect x="813" y="991" width="1" height="10"/>
<rect x="856" y="991" width="1" height="10"/>
<rect x="896" y="982" width="5" height="24"/>
<rect x="940" y="991" width="1" height="10"/>
<rect x="983" y="991" width="1" height="10"/>
<rect x="1025" y="991" width="1" height="10"/>
<rect x="1068" y="991" width="1" height="10"/>
<rect x="1108" y="982" width="5" height="24"/>
<rect x="1152" y="991" width="1" height="10"/>
<rect x="1195" y="991" width="1" height="10"/>
<rect x="1237" y="991" width="1" height="10"/>
<rect x="1280" y="991" width="1" height="10"/>
<rect x="1320" y="982" width="5" height="24"/>
</g>
<text transform="translate(246.5,1029.35) scale(0.79,1)" font-family='"Liberation Serif", "DejaVu Serif", serif' font-size="71.5" font-weight="normal" text-anchor="end" fill="#000">-0.03</text>
<text transform="translate(248.0,958.5) scale(0.79,1)" font-family='"Liberation Serif", "DejaVu Serif", serif' font-size="71.5" font-weight="normal" text-anchor="end" fill="#000">0</text>
<text transform="translate(246.5,887.65) scale(0.79,1)" font-family='"Liberation Serif", "DejaVu Serif", serif' font-size="71.5" font-weight="normal" text-anchor="end" fill="#000">0.03</text>
<text transform="translate(246.5,816.8) scale(0.79,1)" font-family='"Liberation Serif", "DejaVu Serif", serif' font-size="71.5" font-weight="normal" text-anchor="end" fill="#000">0.06</text>
<text transform="translate(246.5,745.95) scale(0.79,1)" font-family='"Liberation Serif", "DejaVu Serif", serif' font-size="71.5" font-weight="normal" text-anchor="end" fill="#000">0.09</text>
<text transform="translate(246.5,675.1) scale(0.79,1)" font-family='"Liberation Serif", "DejaVu Serif", serif' font-size="71.5" font-weight="normal" text-anchor="end" fill="#000">0.12</text>
<text transform="translate(246.5,604.25) scale(0.79,1)" font-family='"Liberation Serif", "DejaVu Serif", serif' font-size="71.5" font-weight="normal" text-anchor="end" fill="#000">0.15</text>
<text transform="translate(246.5,533.4000000000001) scale(0.79,1)" font-family='"Liberation Serif", "DejaVu Serif", serif' font-size="71.5" font-weight="normal" text-anchor="end" fill="#000">0.18</text>
<text transform="translate(246.5,462.55000000000007) scale(0.79,1)" font-family='"Liberation Serif", "DejaVu Serif", serif' font-size="71.5" font-weight="normal" text-anchor="end" fill="#000">0.21</text>
<text transform="translate(246.5,391.70000000000005) scale(0.79,1)" font-family='"Liberation Serif", "DejaVu Serif", serif' font-size="71.5" font-weight="normal" text-anchor="end" fill="#000">0.24</text>
<text transform="translate(246.5,320.85) scale(0.79,1)" font-family='"Liberation Serif", "DejaVu Serif", serif' font-size="71.5" font-weight="normal" text-anchor="end" fill="#000">0.27</text>
<text transform="translate(246.5,250.0) scale(0.79,1)" font-family='"Liberation Serif", "DejaVu Serif", serif' font-size="71.5" font-weight="normal" text-anchor="end" fill="#000">0.3</text>
<text transform="translate(246.5,179.1500000000001) scale(0.79,1)" font-family='"Liberation Serif", "DejaVu Serif", serif' font-size="71.5" font-weight="normal" text-anchor="end" fill="#000">0.33</text>
<text transform="translate(262.0,1084) scale(0.79,1)" font-family='"Liberation Serif", "DejaVu Serif", serif' font-size="71.5" font-weight="normal" text-anchor="middle" fill="#000">0</text>
<text transform="translate(474.0,1084) scale(0.79,1)" font-family='"Liberation Serif", "DejaVu Serif", serif' font-size="71.5" font-weight="normal" text-anchor="middle" fill="#000">10</text>
<text transform="translate(686.0,1084) scale(0.79,1)" font-family='"Liberation Serif", "DejaVu Serif", serif' font-size="71.5" font-weight="normal" text-anchor="middle" fill="#000">20</text>
<text transform="translate(898.0,1084) scale(0.79,1)" font-family='"Liberation Serif", "DejaVu Serif", serif' font-size="71.5" font-weight="normal" text-anchor="middle" fill="#000">30</text>
<text transform="translate(1110.0,1084) scale(0.79,1)" font-family='"Liberation Serif", "DejaVu Serif", serif' font-size="71.5" font-weight="normal" text-anchor="middle" fill="#000">40</text>
<text transform="translate(1322.0,1084) scale(0.79,1)" font-family='"Liberation Serif", "DejaVu Serif", serif' font-size="71.5" font-weight="normal" text-anchor="middle" fill="#000">50</text>
<text transform="translate(792.5,1109) scale(0.985,1)" font-family='"Liberation Serif", "DejaVu Serif", serif' font-size="86" font-weight="normal" text-anchor="middle" fill="#000">τ</text>
<text transform="translate(107.3,625.5) rotate(-90) scale(1.073,0.888)" font-family='"Liberation Serif", "DejaVu Serif", serif' font-size="86" fill="#000">τ</text>
<text transform="translate(128.5,589.8) rotate(-90) scale(1,0.86)" font-family='"Liberation Serif", "DejaVu Serif", serif' font-size="52" fill="#000">m</text>
<text transform="translate(48.8,1088.6) scale(0.834,1)" font-family='"Liberation Serif", "DejaVu Serif", serif' font-size="64.3" font-weight="normal" text-anchor="start" fill="#000">(c)</text>
<text transform="translate(758,168) scale(1.09,1)" font-family='"Liberation Serif", "DejaVu Serif", serif' font-size="62.5" font-weight="normal" text-anchor="start" fill="#000">α</text>
<text transform="translate(802.3,168) scale(1.03,1)" font-family='"Liberation Serif", "DejaVu Serif", serif' font-size="62.5" font-weight="normal" text-anchor="start" fill="#000">=</text>
<text transform="translate(846.8,168) scale(0.879,1)" font-family='"Liberation Serif", "DejaVu Serif", serif' font-size="62.5" font-weight="normal" text-anchor="start" fill="#000">π/6</text>
<text transform="translate(760.2,286) scale(1.09,1)" font-family='"Liberation Serif", "DejaVu Serif", serif' font-size="62.5" font-weight="normal" text-anchor="start" fill="#000">α</text>
<text transform="translate(805,286) scale(1.03,1)" font-family='"Liberation Serif", "DejaVu Serif", serif' font-size="62.5" font-weight="normal" text-anchor="start" fill="#000">=</text>
<text transform="translate(848.2,286) scale(0.879,1)" font-family='"Liberation Serif", "DejaVu Serif", serif' font-size="62.5" font-weight="normal" text-anchor="start" fill="#000">π/2</text>
<text transform="translate(1121,79) scale(0.87,1)" font-family='"Liberation Serif", "DejaVu Serif", serif' font-size="62" font-weight="normal" text-anchor="start" fill="#000">γ</text>
<rect x="988" y="107" width="171" height="10" fill="#000000" shape-rendering="crispEdges"/>
<text transform="translate(1186.5,125.8) scale(0.822,1)" font-family='"Liberation Sans", "DejaVu Sans", sans-serif' font-size="46.6" font-weight="bold" text-anchor="start" fill="#000">0.1</text>
<rect x="988" y="156" width="171" height="10" fill="#00cc00" shape-rendering="crispEdges"/>
<text transform="translate(1186.5,174.2) scale(0.822,1)" font-family='"Liberation Sans", "DejaVu Sans", sans-serif' font-size="46.6" font-weight="bold" text-anchor="start" fill="#000">0.4</text>
<rect x="988" y="204" width="171" height="10" fill="#cc0000" shape-rendering="crispEdges"/>
<text transform="translate(1186.5,222.6) scale(0.822,1)" font-family='"Liberation Sans", "DejaVu Sans", sans-serif' font-size="46.6" font-weight="bold" text-anchor="start" fill="#000">0.7</text>
<rect x="988" y="253" width="15" height="10" fill="#000000" shape-rendering="crispEdges"/>
<rect x="1026" y="253" width="15" height="10" fill="#000000" shape-rendering="crispEdges"/>
<rect x="1064" y="253" width="15" height="10" fill="#000000" shape-rendering="crispEdges"/>
<rect x="1101" y="253" width="15" height="10" fill="#000000" shape-rendering="crispEdges"/>
<rect x="1139" y="253" width="15" height="10" fill="#000000" shape-rendering="crispEdges"/>
<text transform="translate(1186.5,271.0) scale(0.822,1)" font-family='"Liberation Sans", "DejaVu Sans", sans-serif' font-size="46.6" font-weight="bold" text-anchor="start" fill="#000">0.1</text>
<rect x="988" y="301" width="15" height="10" fill="#00cc00" shape-rendering="crispEdges"/>
<rect x="1026" y="301" width="15" height="10" fill="#00cc00" shape-rendering="crispEdges"/>
<rect x="1064" y="301" width="15" height="10" fill="#00cc00" shape-rendering="crispEdges"/>
<rect x="1101" y="301" width="15" height="10" fill="#00cc00" shape-rendering="crispEdges"/>
<rect x="1139" y="301" width="15" height="10" fill="#00cc00" shape-rendering="crispEdges"/>
<text transform="translate(1186.5,319.4) scale(0.822,1)" font-family='"Liberation Sans", "DejaVu Sans", sans-serif' font-size="46.6" font-weight="bold" text-anchor="start" fill="#000">0.4</text>
<rect x="988" y="350" width="15" height="10" fill="#cc0000" shape-rendering="crispEdges"/>
<rect x="1026" y="350" width="15" height="10" fill="#cc0000" shape-rendering="crispEdges"/>
<rect x="1064" y="350" width="15" height="10" fill="#cc0000" shape-rendering="crispEdges"/>
<rect x="1101" y="350" width="15" height="10" fill="#cc0000" shape-rendering="crispEdges"/>
<rect x="1139" y="350" width="15" height="10" fill="#cc0000" shape-rendering="crispEdges"/>
<text transform="translate(1186.5,367.8) scale(0.822,1)" font-family='"Liberation Sans", "DejaVu Sans", sans-serif' font-size="46.6" font-weight="bold" text-anchor="start" fill="#000">0.7</text>
</svg>
</body></html>
